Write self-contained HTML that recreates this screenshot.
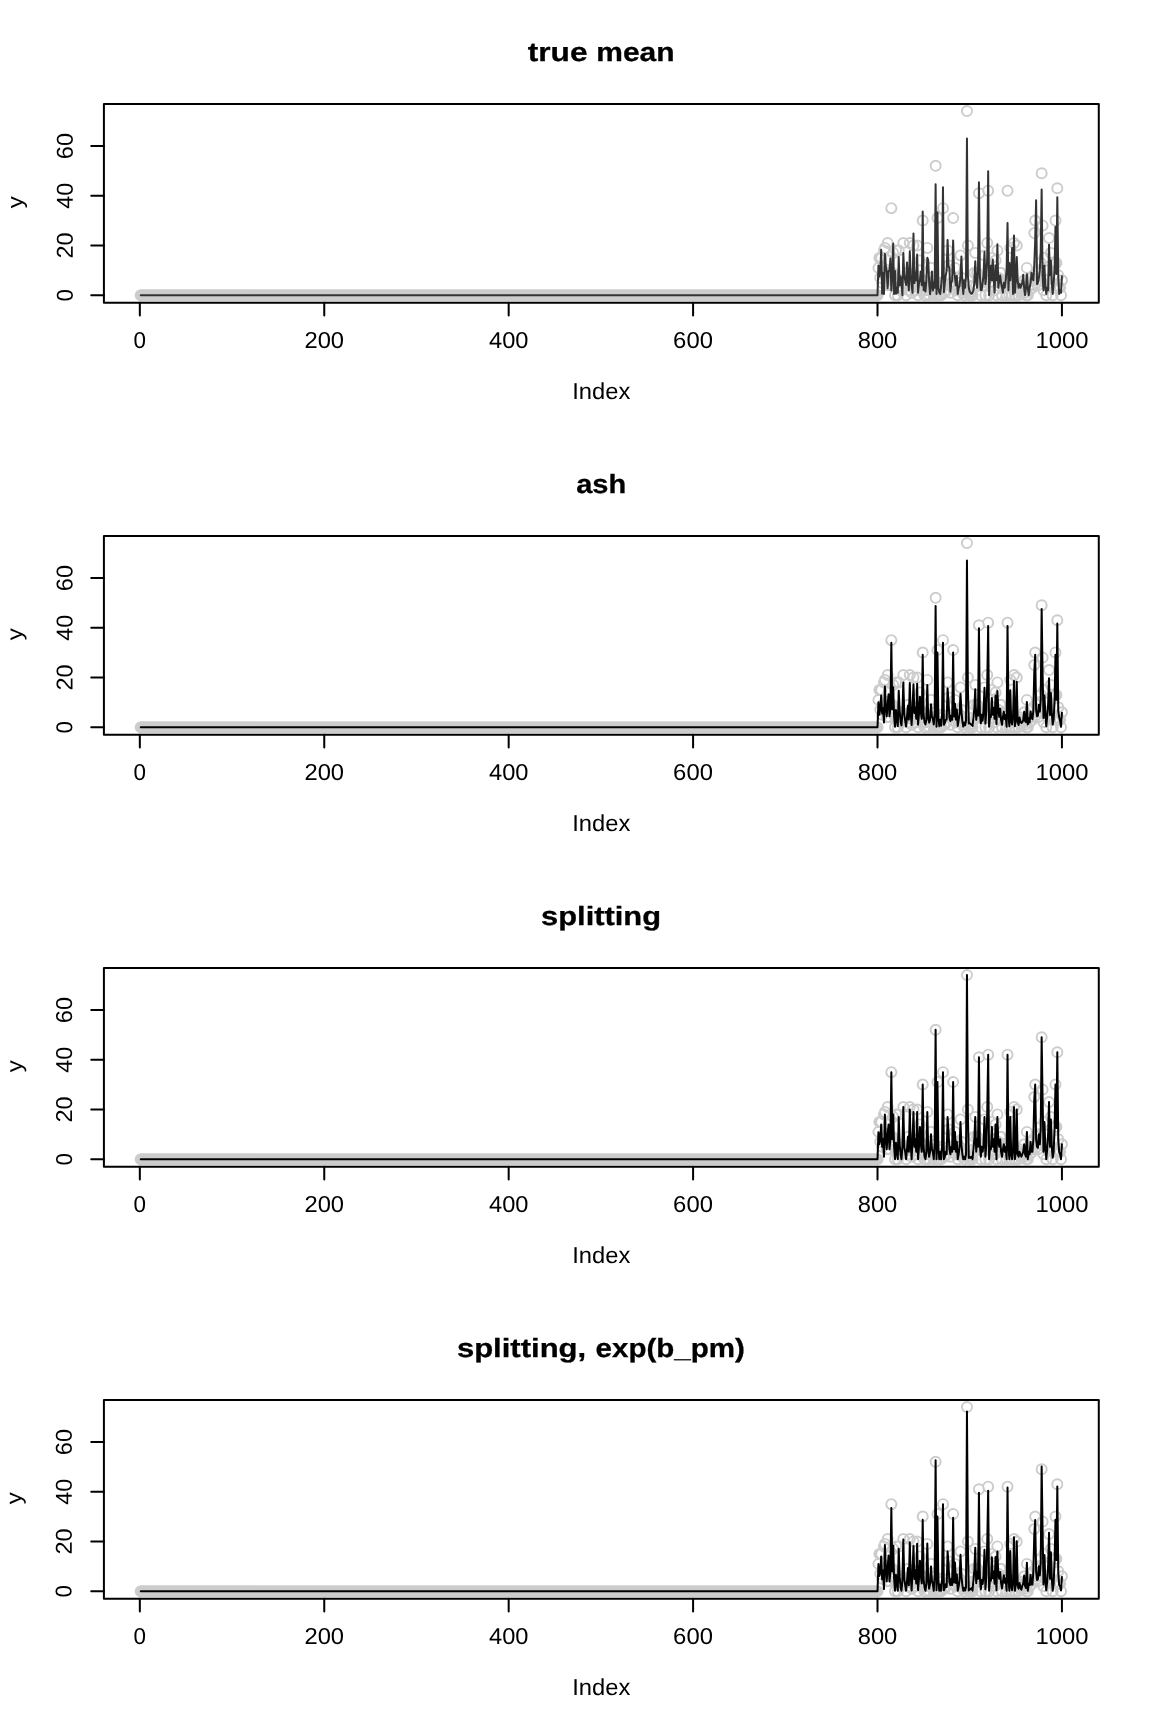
<!DOCTYPE html><html><head><meta charset="utf-8"><style>html,body{margin:0;padding:0;background:#fff;}svg{display:block;will-change:transform}text{font-family:"Liberation Sans",sans-serif;text-rendering:geometricPrecision;}</style></head><body>
<svg width="1152" height="1728" viewBox="0 0 1152 1728">
<rect width="1152" height="1728" fill="#fff"/>
<path d="M140.76 295.25H877.51" stroke="#cccccc" stroke-width="12.00" stroke-linecap="round" fill="none"/>
<path d="M873.39 267.88a5.05 5.05 0 1 0 10.10 0a5.05 5.05 0 1 0 -10.10 0M874.31 257.93a5.05 5.05 0 1 0 10.10 0a5.05 5.05 0 1 0 -10.10 0M875.23 277.83a5.05 5.05 0 1 0 10.10 0a5.05 5.05 0 1 0 -10.10 0M876.15 257.93a5.05 5.05 0 1 0 10.10 0a5.05 5.05 0 1 0 -10.10 0M877.07 282.81a5.05 5.05 0 1 0 10.10 0a5.05 5.05 0 1 0 -10.10 0M878.00 272.86a5.05 5.05 0 1 0 10.10 0a5.05 5.05 0 1 0 -10.10 0M878.92 250.46a5.05 5.05 0 1 0 10.10 0a5.05 5.05 0 1 0 -10.10 0M879.84 247.97a5.05 5.05 0 1 0 10.10 0a5.05 5.05 0 1 0 -10.10 0M880.76 272.86a5.05 5.05 0 1 0 10.10 0a5.05 5.05 0 1 0 -10.10 0M881.68 285.30a5.05 5.05 0 1 0 10.10 0a5.05 5.05 0 1 0 -10.10 0M882.61 243.00a5.05 5.05 0 1 0 10.10 0a5.05 5.05 0 1 0 -10.10 0M883.53 260.41a5.05 5.05 0 1 0 10.10 0a5.05 5.05 0 1 0 -10.10 0M884.45 285.30a5.05 5.05 0 1 0 10.10 0a5.05 5.05 0 1 0 -10.10 0M885.37 272.86a5.05 5.05 0 1 0 10.10 0a5.05 5.05 0 1 0 -10.10 0M886.29 208.16a5.05 5.05 0 1 0 10.10 0a5.05 5.05 0 1 0 -10.10 0M887.22 272.86a5.05 5.05 0 1 0 10.10 0a5.05 5.05 0 1 0 -10.10 0M888.14 252.95a5.05 5.05 0 1 0 10.10 0a5.05 5.05 0 1 0 -10.10 0M889.06 282.81a5.05 5.05 0 1 0 10.10 0a5.05 5.05 0 1 0 -10.10 0M889.98 295.25a5.05 5.05 0 1 0 10.10 0a5.05 5.05 0 1 0 -10.10 0M890.91 250.46a5.05 5.05 0 1 0 10.10 0a5.05 5.05 0 1 0 -10.10 0M891.83 287.79a5.05 5.05 0 1 0 10.10 0a5.05 5.05 0 1 0 -10.10 0M892.75 295.25a5.05 5.05 0 1 0 10.10 0a5.05 5.05 0 1 0 -10.10 0M893.67 250.46a5.05 5.05 0 1 0 10.10 0a5.05 5.05 0 1 0 -10.10 0M894.59 280.32a5.05 5.05 0 1 0 10.10 0a5.05 5.05 0 1 0 -10.10 0M895.52 290.27a5.05 5.05 0 1 0 10.10 0a5.05 5.05 0 1 0 -10.10 0M896.44 290.27a5.05 5.05 0 1 0 10.10 0a5.05 5.05 0 1 0 -10.10 0M897.36 282.81a5.05 5.05 0 1 0 10.10 0a5.05 5.05 0 1 0 -10.10 0M898.28 243.00a5.05 5.05 0 1 0 10.10 0a5.05 5.05 0 1 0 -10.10 0M899.20 282.81a5.05 5.05 0 1 0 10.10 0a5.05 5.05 0 1 0 -10.10 0M900.13 285.30a5.05 5.05 0 1 0 10.10 0a5.05 5.05 0 1 0 -10.10 0M901.05 295.25a5.05 5.05 0 1 0 10.10 0a5.05 5.05 0 1 0 -10.10 0M901.97 285.30a5.05 5.05 0 1 0 10.10 0a5.05 5.05 0 1 0 -10.10 0M902.89 272.86a5.05 5.05 0 1 0 10.10 0a5.05 5.05 0 1 0 -10.10 0M903.81 290.27a5.05 5.05 0 1 0 10.10 0a5.05 5.05 0 1 0 -10.10 0M904.74 243.00a5.05 5.05 0 1 0 10.10 0a5.05 5.05 0 1 0 -10.10 0M905.66 280.32a5.05 5.05 0 1 0 10.10 0a5.05 5.05 0 1 0 -10.10 0M906.58 292.76a5.05 5.05 0 1 0 10.10 0a5.05 5.05 0 1 0 -10.10 0M907.50 275.34a5.05 5.05 0 1 0 10.10 0a5.05 5.05 0 1 0 -10.10 0M908.43 245.48a5.05 5.05 0 1 0 10.10 0a5.05 5.05 0 1 0 -10.10 0M909.35 282.81a5.05 5.05 0 1 0 10.10 0a5.05 5.05 0 1 0 -10.10 0M910.27 275.34a5.05 5.05 0 1 0 10.10 0a5.05 5.05 0 1 0 -10.10 0M911.19 290.27a5.05 5.05 0 1 0 10.10 0a5.05 5.05 0 1 0 -10.10 0M912.11 245.48a5.05 5.05 0 1 0 10.10 0a5.05 5.05 0 1 0 -10.10 0M913.04 295.25a5.05 5.05 0 1 0 10.10 0a5.05 5.05 0 1 0 -10.10 0M913.96 282.81a5.05 5.05 0 1 0 10.10 0a5.05 5.05 0 1 0 -10.10 0M914.88 260.41a5.05 5.05 0 1 0 10.10 0a5.05 5.05 0 1 0 -10.10 0M915.80 280.32a5.05 5.05 0 1 0 10.10 0a5.05 5.05 0 1 0 -10.10 0M916.72 290.27a5.05 5.05 0 1 0 10.10 0a5.05 5.05 0 1 0 -10.10 0M917.65 220.60a5.05 5.05 0 1 0 10.10 0a5.05 5.05 0 1 0 -10.10 0M918.57 280.32a5.05 5.05 0 1 0 10.10 0a5.05 5.05 0 1 0 -10.10 0M919.49 295.25a5.05 5.05 0 1 0 10.10 0a5.05 5.05 0 1 0 -10.10 0M920.41 295.25a5.05 5.05 0 1 0 10.10 0a5.05 5.05 0 1 0 -10.10 0M921.33 290.27a5.05 5.05 0 1 0 10.10 0a5.05 5.05 0 1 0 -10.10 0M922.26 247.97a5.05 5.05 0 1 0 10.10 0a5.05 5.05 0 1 0 -10.10 0M923.18 285.30a5.05 5.05 0 1 0 10.10 0a5.05 5.05 0 1 0 -10.10 0M924.10 295.25a5.05 5.05 0 1 0 10.10 0a5.05 5.05 0 1 0 -10.10 0M925.02 290.27a5.05 5.05 0 1 0 10.10 0a5.05 5.05 0 1 0 -10.10 0M925.95 267.88a5.05 5.05 0 1 0 10.10 0a5.05 5.05 0 1 0 -10.10 0M926.87 285.30a5.05 5.05 0 1 0 10.10 0a5.05 5.05 0 1 0 -10.10 0M927.79 290.27a5.05 5.05 0 1 0 10.10 0a5.05 5.05 0 1 0 -10.10 0M928.71 295.25a5.05 5.05 0 1 0 10.10 0a5.05 5.05 0 1 0 -10.10 0M929.63 280.32a5.05 5.05 0 1 0 10.10 0a5.05 5.05 0 1 0 -10.10 0M930.56 165.86a5.05 5.05 0 1 0 10.10 0a5.05 5.05 0 1 0 -10.10 0M931.48 295.25a5.05 5.05 0 1 0 10.10 0a5.05 5.05 0 1 0 -10.10 0M932.40 218.11a5.05 5.05 0 1 0 10.10 0a5.05 5.05 0 1 0 -10.10 0M933.32 285.30a5.05 5.05 0 1 0 10.10 0a5.05 5.05 0 1 0 -10.10 0M934.24 295.25a5.05 5.05 0 1 0 10.10 0a5.05 5.05 0 1 0 -10.10 0M935.17 290.27a5.05 5.05 0 1 0 10.10 0a5.05 5.05 0 1 0 -10.10 0M936.09 295.25a5.05 5.05 0 1 0 10.10 0a5.05 5.05 0 1 0 -10.10 0M937.01 282.81a5.05 5.05 0 1 0 10.10 0a5.05 5.05 0 1 0 -10.10 0M937.93 208.16a5.05 5.05 0 1 0 10.10 0a5.05 5.05 0 1 0 -10.10 0M938.85 292.76a5.05 5.05 0 1 0 10.10 0a5.05 5.05 0 1 0 -10.10 0M939.78 292.76a5.05 5.05 0 1 0 10.10 0a5.05 5.05 0 1 0 -10.10 0M940.70 290.27a5.05 5.05 0 1 0 10.10 0a5.05 5.05 0 1 0 -10.10 0M941.62 290.27a5.05 5.05 0 1 0 10.10 0a5.05 5.05 0 1 0 -10.10 0M942.54 250.46a5.05 5.05 0 1 0 10.10 0a5.05 5.05 0 1 0 -10.10 0M943.46 265.39a5.05 5.05 0 1 0 10.10 0a5.05 5.05 0 1 0 -10.10 0M944.39 285.30a5.05 5.05 0 1 0 10.10 0a5.05 5.05 0 1 0 -10.10 0M945.31 292.76a5.05 5.05 0 1 0 10.10 0a5.05 5.05 0 1 0 -10.10 0M946.23 282.81a5.05 5.05 0 1 0 10.10 0a5.05 5.05 0 1 0 -10.10 0M947.15 285.30a5.05 5.05 0 1 0 10.10 0a5.05 5.05 0 1 0 -10.10 0M948.08 218.11a5.05 5.05 0 1 0 10.10 0a5.05 5.05 0 1 0 -10.10 0M949.00 285.30a5.05 5.05 0 1 0 10.10 0a5.05 5.05 0 1 0 -10.10 0M949.92 267.88a5.05 5.05 0 1 0 10.10 0a5.05 5.05 0 1 0 -10.10 0M950.84 290.27a5.05 5.05 0 1 0 10.10 0a5.05 5.05 0 1 0 -10.10 0M951.76 277.83a5.05 5.05 0 1 0 10.10 0a5.05 5.05 0 1 0 -10.10 0M952.69 295.25a5.05 5.05 0 1 0 10.10 0a5.05 5.05 0 1 0 -10.10 0M953.61 290.27a5.05 5.05 0 1 0 10.10 0a5.05 5.05 0 1 0 -10.10 0M954.53 282.81a5.05 5.05 0 1 0 10.10 0a5.05 5.05 0 1 0 -10.10 0M955.45 255.44a5.05 5.05 0 1 0 10.10 0a5.05 5.05 0 1 0 -10.10 0M956.37 277.83a5.05 5.05 0 1 0 10.10 0a5.05 5.05 0 1 0 -10.10 0M957.30 292.76a5.05 5.05 0 1 0 10.10 0a5.05 5.05 0 1 0 -10.10 0M958.22 290.27a5.05 5.05 0 1 0 10.10 0a5.05 5.05 0 1 0 -10.10 0M959.14 295.25a5.05 5.05 0 1 0 10.10 0a5.05 5.05 0 1 0 -10.10 0M960.06 295.25a5.05 5.05 0 1 0 10.10 0a5.05 5.05 0 1 0 -10.10 0M960.98 290.27a5.05 5.05 0 1 0 10.10 0a5.05 5.05 0 1 0 -10.10 0M961.91 111.12a5.05 5.05 0 1 0 10.10 0a5.05 5.05 0 1 0 -10.10 0M962.83 245.48a5.05 5.05 0 1 0 10.10 0a5.05 5.05 0 1 0 -10.10 0M963.75 292.76a5.05 5.05 0 1 0 10.10 0a5.05 5.05 0 1 0 -10.10 0M964.67 295.25a5.05 5.05 0 1 0 10.10 0a5.05 5.05 0 1 0 -10.10 0M965.60 292.76a5.05 5.05 0 1 0 10.10 0a5.05 5.05 0 1 0 -10.10 0M966.52 292.76a5.05 5.05 0 1 0 10.10 0a5.05 5.05 0 1 0 -10.10 0M967.44 295.25a5.05 5.05 0 1 0 10.10 0a5.05 5.05 0 1 0 -10.10 0M968.36 285.30a5.05 5.05 0 1 0 10.10 0a5.05 5.05 0 1 0 -10.10 0M969.28 272.86a5.05 5.05 0 1 0 10.10 0a5.05 5.05 0 1 0 -10.10 0M970.21 252.95a5.05 5.05 0 1 0 10.10 0a5.05 5.05 0 1 0 -10.10 0M971.13 285.30a5.05 5.05 0 1 0 10.10 0a5.05 5.05 0 1 0 -10.10 0M972.05 272.86a5.05 5.05 0 1 0 10.10 0a5.05 5.05 0 1 0 -10.10 0M972.97 280.32a5.05 5.05 0 1 0 10.10 0a5.05 5.05 0 1 0 -10.10 0M973.89 193.23a5.05 5.05 0 1 0 10.10 0a5.05 5.05 0 1 0 -10.10 0M974.82 280.32a5.05 5.05 0 1 0 10.10 0a5.05 5.05 0 1 0 -10.10 0M975.74 295.25a5.05 5.05 0 1 0 10.10 0a5.05 5.05 0 1 0 -10.10 0M976.66 282.81a5.05 5.05 0 1 0 10.10 0a5.05 5.05 0 1 0 -10.10 0M977.58 285.30a5.05 5.05 0 1 0 10.10 0a5.05 5.05 0 1 0 -10.10 0M978.50 280.32a5.05 5.05 0 1 0 10.10 0a5.05 5.05 0 1 0 -10.10 0M979.43 255.44a5.05 5.05 0 1 0 10.10 0a5.05 5.05 0 1 0 -10.10 0M980.35 295.25a5.05 5.05 0 1 0 10.10 0a5.05 5.05 0 1 0 -10.10 0M981.27 280.32a5.05 5.05 0 1 0 10.10 0a5.05 5.05 0 1 0 -10.10 0M982.19 243.00a5.05 5.05 0 1 0 10.10 0a5.05 5.05 0 1 0 -10.10 0M983.12 190.74a5.05 5.05 0 1 0 10.10 0a5.05 5.05 0 1 0 -10.10 0M984.04 295.25a5.05 5.05 0 1 0 10.10 0a5.05 5.05 0 1 0 -10.10 0M984.96 282.81a5.05 5.05 0 1 0 10.10 0a5.05 5.05 0 1 0 -10.10 0M985.88 285.30a5.05 5.05 0 1 0 10.10 0a5.05 5.05 0 1 0 -10.10 0M986.80 257.93a5.05 5.05 0 1 0 10.10 0a5.05 5.05 0 1 0 -10.10 0M987.73 282.81a5.05 5.05 0 1 0 10.10 0a5.05 5.05 0 1 0 -10.10 0M988.65 275.34a5.05 5.05 0 1 0 10.10 0a5.05 5.05 0 1 0 -10.10 0M989.57 290.27a5.05 5.05 0 1 0 10.10 0a5.05 5.05 0 1 0 -10.10 0M990.49 260.41a5.05 5.05 0 1 0 10.10 0a5.05 5.05 0 1 0 -10.10 0M991.41 295.25a5.05 5.05 0 1 0 10.10 0a5.05 5.05 0 1 0 -10.10 0M992.34 250.46a5.05 5.05 0 1 0 10.10 0a5.05 5.05 0 1 0 -10.10 0M993.26 277.83a5.05 5.05 0 1 0 10.10 0a5.05 5.05 0 1 0 -10.10 0M994.18 282.81a5.05 5.05 0 1 0 10.10 0a5.05 5.05 0 1 0 -10.10 0M995.10 272.86a5.05 5.05 0 1 0 10.10 0a5.05 5.05 0 1 0 -10.10 0M996.02 272.86a5.05 5.05 0 1 0 10.10 0a5.05 5.05 0 1 0 -10.10 0M996.95 295.25a5.05 5.05 0 1 0 10.10 0a5.05 5.05 0 1 0 -10.10 0M997.87 282.81a5.05 5.05 0 1 0 10.10 0a5.05 5.05 0 1 0 -10.10 0M998.79 280.32a5.05 5.05 0 1 0 10.10 0a5.05 5.05 0 1 0 -10.10 0M999.71 287.79a5.05 5.05 0 1 0 10.10 0a5.05 5.05 0 1 0 -10.10 0M1000.63 280.32a5.05 5.05 0 1 0 10.10 0a5.05 5.05 0 1 0 -10.10 0M1001.56 295.25a5.05 5.05 0 1 0 10.10 0a5.05 5.05 0 1 0 -10.10 0M1002.48 190.74a5.05 5.05 0 1 0 10.10 0a5.05 5.05 0 1 0 -10.10 0M1003.40 282.81a5.05 5.05 0 1 0 10.10 0a5.05 5.05 0 1 0 -10.10 0M1004.32 295.25a5.05 5.05 0 1 0 10.10 0a5.05 5.05 0 1 0 -10.10 0M1005.25 247.97a5.05 5.05 0 1 0 10.10 0a5.05 5.05 0 1 0 -10.10 0M1006.17 287.79a5.05 5.05 0 1 0 10.10 0a5.05 5.05 0 1 0 -10.10 0M1007.09 295.25a5.05 5.05 0 1 0 10.10 0a5.05 5.05 0 1 0 -10.10 0M1008.01 285.30a5.05 5.05 0 1 0 10.10 0a5.05 5.05 0 1 0 -10.10 0M1008.93 243.00a5.05 5.05 0 1 0 10.10 0a5.05 5.05 0 1 0 -10.10 0M1009.86 295.25a5.05 5.05 0 1 0 10.10 0a5.05 5.05 0 1 0 -10.10 0M1010.78 285.30a5.05 5.05 0 1 0 10.10 0a5.05 5.05 0 1 0 -10.10 0M1011.70 245.48a5.05 5.05 0 1 0 10.10 0a5.05 5.05 0 1 0 -10.10 0M1012.62 287.79a5.05 5.05 0 1 0 10.10 0a5.05 5.05 0 1 0 -10.10 0M1013.54 295.25a5.05 5.05 0 1 0 10.10 0a5.05 5.05 0 1 0 -10.10 0M1014.47 285.30a5.05 5.05 0 1 0 10.10 0a5.05 5.05 0 1 0 -10.10 0M1015.39 290.27a5.05 5.05 0 1 0 10.10 0a5.05 5.05 0 1 0 -10.10 0M1016.31 292.76a5.05 5.05 0 1 0 10.10 0a5.05 5.05 0 1 0 -10.10 0M1017.23 290.27a5.05 5.05 0 1 0 10.10 0a5.05 5.05 0 1 0 -10.10 0M1018.15 287.79a5.05 5.05 0 1 0 10.10 0a5.05 5.05 0 1 0 -10.10 0M1019.08 280.32a5.05 5.05 0 1 0 10.10 0a5.05 5.05 0 1 0 -10.10 0M1020.00 292.76a5.05 5.05 0 1 0 10.10 0a5.05 5.05 0 1 0 -10.10 0M1020.92 295.25a5.05 5.05 0 1 0 10.10 0a5.05 5.05 0 1 0 -10.10 0M1021.84 267.88a5.05 5.05 0 1 0 10.10 0a5.05 5.05 0 1 0 -10.10 0M1022.77 295.25a5.05 5.05 0 1 0 10.10 0a5.05 5.05 0 1 0 -10.10 0M1023.69 285.30a5.05 5.05 0 1 0 10.10 0a5.05 5.05 0 1 0 -10.10 0M1024.61 290.27a5.05 5.05 0 1 0 10.10 0a5.05 5.05 0 1 0 -10.10 0M1025.53 277.83a5.05 5.05 0 1 0 10.10 0a5.05 5.05 0 1 0 -10.10 0M1026.45 285.30a5.05 5.05 0 1 0 10.10 0a5.05 5.05 0 1 0 -10.10 0M1027.38 287.79a5.05 5.05 0 1 0 10.10 0a5.05 5.05 0 1 0 -10.10 0M1028.30 275.34a5.05 5.05 0 1 0 10.10 0a5.05 5.05 0 1 0 -10.10 0M1029.22 233.04a5.05 5.05 0 1 0 10.10 0a5.05 5.05 0 1 0 -10.10 0M1030.14 220.60a5.05 5.05 0 1 0 10.10 0a5.05 5.05 0 1 0 -10.10 0M1031.06 272.86a5.05 5.05 0 1 0 10.10 0a5.05 5.05 0 1 0 -10.10 0M1031.99 280.32a5.05 5.05 0 1 0 10.10 0a5.05 5.05 0 1 0 -10.10 0M1032.91 285.30a5.05 5.05 0 1 0 10.10 0a5.05 5.05 0 1 0 -10.10 0M1033.83 270.37a5.05 5.05 0 1 0 10.10 0a5.05 5.05 0 1 0 -10.10 0M1034.75 280.32a5.05 5.05 0 1 0 10.10 0a5.05 5.05 0 1 0 -10.10 0M1035.67 262.90a5.05 5.05 0 1 0 10.10 0a5.05 5.05 0 1 0 -10.10 0M1036.60 173.32a5.05 5.05 0 1 0 10.10 0a5.05 5.05 0 1 0 -10.10 0M1037.52 225.58a5.05 5.05 0 1 0 10.10 0a5.05 5.05 0 1 0 -10.10 0M1038.44 290.27a5.05 5.05 0 1 0 10.10 0a5.05 5.05 0 1 0 -10.10 0M1039.36 257.93a5.05 5.05 0 1 0 10.10 0a5.05 5.05 0 1 0 -10.10 0M1040.29 280.32a5.05 5.05 0 1 0 10.10 0a5.05 5.05 0 1 0 -10.10 0M1041.21 295.25a5.05 5.05 0 1 0 10.10 0a5.05 5.05 0 1 0 -10.10 0M1042.13 285.30a5.05 5.05 0 1 0 10.10 0a5.05 5.05 0 1 0 -10.10 0M1043.05 270.37a5.05 5.05 0 1 0 10.10 0a5.05 5.05 0 1 0 -10.10 0M1043.97 238.02a5.05 5.05 0 1 0 10.10 0a5.05 5.05 0 1 0 -10.10 0M1044.90 282.81a5.05 5.05 0 1 0 10.10 0a5.05 5.05 0 1 0 -10.10 0M1045.82 252.95a5.05 5.05 0 1 0 10.10 0a5.05 5.05 0 1 0 -10.10 0M1046.74 282.81a5.05 5.05 0 1 0 10.10 0a5.05 5.05 0 1 0 -10.10 0M1047.66 295.25a5.05 5.05 0 1 0 10.10 0a5.05 5.05 0 1 0 -10.10 0M1048.58 287.79a5.05 5.05 0 1 0 10.10 0a5.05 5.05 0 1 0 -10.10 0M1049.51 262.90a5.05 5.05 0 1 0 10.10 0a5.05 5.05 0 1 0 -10.10 0M1050.43 220.60a5.05 5.05 0 1 0 10.10 0a5.05 5.05 0 1 0 -10.10 0M1051.35 262.90a5.05 5.05 0 1 0 10.10 0a5.05 5.05 0 1 0 -10.10 0M1052.27 188.25a5.05 5.05 0 1 0 10.10 0a5.05 5.05 0 1 0 -10.10 0M1053.19 275.34a5.05 5.05 0 1 0 10.10 0a5.05 5.05 0 1 0 -10.10 0M1054.12 287.79a5.05 5.05 0 1 0 10.10 0a5.05 5.05 0 1 0 -10.10 0M1055.04 287.79a5.05 5.05 0 1 0 10.10 0a5.05 5.05 0 1 0 -10.10 0M1055.96 295.25a5.05 5.05 0 1 0 10.10 0a5.05 5.05 0 1 0 -10.10 0M1056.88 280.32a5.05 5.05 0 1 0 10.10 0a5.05 5.05 0 1 0 -10.10 0" fill="none" stroke="#cccccc" stroke-width="1.9"/>
<path d="M140.76 295.25L877.51 295.25L878.44 265.39L879.36 276.59L880.28 270.37L881.20 249.71L882.12 293.76L883.05 272.86L883.97 294.01L884.89 253.94L885.81 265.39L886.73 272.36L887.66 288.28L888.58 271.11L889.50 270.37L890.42 258.42L891.34 290.52L892.27 275.34L893.19 243.49L894.11 294.01L895.03 271.11L895.96 293.76L896.88 287.79L897.80 292.76L898.72 256.93L899.64 285.30L900.57 276.59L901.49 282.81L902.41 295.25L903.33 252.95L904.25 275.34L905.18 280.32L906.10 285.05L907.02 262.40L907.94 280.32L908.86 290.27L909.79 251.21L910.71 275.34L911.63 285.30L912.55 292.76L913.48 233.54L914.40 283.06L915.32 272.86L916.24 280.32L917.16 254.44L918.09 292.76L919.01 282.81L919.93 280.32L920.85 271.61L921.77 285.30L922.70 211.39L923.62 290.27L924.54 282.81L925.46 291.52L926.38 280.32L927.31 257.68L928.23 260.41L929.15 282.81L930.07 294.25L931.00 285.30L931.92 271.61L932.84 290.52L933.76 282.81L934.68 287.79L935.61 184.27L936.53 294.01L937.45 212.14L938.37 287.79L939.29 292.76L940.22 294.01L941.14 285.30L942.06 275.34L942.98 187.26L943.90 292.26L944.83 282.81L945.75 275.34L946.67 270.37L947.59 240.01L948.51 265.39L949.44 268.87L950.36 291.77L951.28 282.81L952.20 280.32L953.13 240.51L954.05 270.37L954.97 277.83L955.89 285.30L956.81 275.84L957.74 294.01L958.66 287.79L959.58 285.79L960.50 275.34L961.42 256.43L962.35 282.81L963.27 294.01L964.19 280.32L965.11 287.79L966.03 275.34L966.96 138.49L967.88 275.34L968.80 287.79L969.72 291.77L970.65 292.76L971.57 294.01L972.49 292.76L973.41 290.27L974.33 282.81L975.26 261.16L976.18 280.32L977.10 287.79L978.02 270.37L978.94 182.28L979.87 275.34L980.79 290.27L981.71 289.78L982.63 282.81L983.55 275.34L984.48 251.70L985.40 284.05L986.32 275.34L987.24 257.93L988.17 171.33L989.09 295.25L990.01 275.34L990.93 265.39L991.85 280.32L992.78 259.42L993.70 280.32L994.62 292.76L995.54 265.39L996.46 280.32L997.39 244.24L998.31 287.79L999.23 280.32L1000.15 275.34L1001.07 282.81L1002.00 287.79L1002.92 292.76L1003.84 282.81L1004.76 287.79L1005.68 280.32L1006.61 270.37L1007.53 223.09L1008.45 290.27L1009.37 262.90L1010.30 280.32L1011.22 270.37L1012.14 247.97L1013.06 294.01L1013.98 235.53L1014.91 292.76L1015.83 280.32L1016.75 256.93L1017.67 280.32L1018.59 287.79L1019.52 284.05L1020.44 287.79L1021.36 285.30L1022.28 282.81L1023.20 274.85L1024.13 287.79L1025.05 295.00L1025.97 287.79L1026.89 274.35L1027.82 287.79L1028.74 295.25L1029.66 287.79L1030.58 282.81L1031.50 272.86L1032.43 277.83L1033.35 280.32L1034.27 265.39L1035.19 240.51L1036.11 200.20L1037.04 284.05L1037.96 282.81L1038.88 277.83L1039.80 270.37L1040.72 250.46L1041.65 189.50L1042.57 275.34L1043.49 290.27L1044.41 265.39L1045.34 285.30L1046.26 294.01L1047.18 287.79L1048.10 290.27L1049.02 244.74L1049.95 275.34L1050.87 260.41L1051.79 282.81L1052.71 294.01L1053.63 282.81L1054.56 270.37L1055.48 226.82L1056.40 274.10L1057.32 197.21L1058.24 275.34L1059.17 294.01L1060.09 290.27L1061.01 292.76L1061.93 276.34" fill="none" stroke="#333333" stroke-width="2" stroke-linejoin="round" stroke-linecap="round"/>
<rect x="103.91" y="103.91" width="994.87" height="198.84" fill="none" stroke="#000" stroke-width="2" stroke-linejoin="round"/>
<path d="M139.83 302.75V315.42M324.25 302.75V315.42M508.67 302.75V315.42M693.09 302.75V315.42M877.51 302.75V315.42M1061.93 302.75V315.42M103.91 295.25H91.24M103.91 245.48H91.24M103.91 195.72H91.24M103.91 145.95H91.24" stroke="#000" stroke-width="2" stroke-linecap="round" fill="none"/>
<text x="133.61" y="347.75" font-size="23.00" textLength="12.48" lengthAdjust="spacingAndGlyphs">0</text>
<text x="304.44" y="347.75" font-size="23.00" textLength="39.63" lengthAdjust="spacingAndGlyphs">200</text>
<text x="489.00" y="347.75" font-size="23.00" textLength="39.48" lengthAdjust="spacingAndGlyphs">400</text>
<text x="673.14" y="347.75" font-size="23.00" textLength="39.77" lengthAdjust="spacingAndGlyphs">600</text>
<text x="857.70" y="347.75" font-size="23.00" textLength="39.63" lengthAdjust="spacingAndGlyphs">800</text>
<text x="1035.57" y="347.75" font-size="23.00" textLength="52.93" lengthAdjust="spacingAndGlyphs">1000</text>
<text transform="translate(73.00 0) rotate(-89.95)" x="-301.48" y="0" font-size="23.00" textLength="12.49" lengthAdjust="spacingAndGlyphs">0</text>
<text transform="translate(73.00 0) rotate(-89.95)" x="-258.58" y="0" font-size="23.00" textLength="26.14" lengthAdjust="spacingAndGlyphs">20</text>
<text transform="translate(73.00 0) rotate(-89.95)" x="-208.67" y="0" font-size="23.00" textLength="26.00" lengthAdjust="spacingAndGlyphs">40</text>
<text transform="translate(73.00 0) rotate(-89.95)" x="-159.17" y="0" font-size="23.00" textLength="26.27" lengthAdjust="spacingAndGlyphs">60</text>
<text x="572.18" y="398.80" font-size="23.00" textLength="58.12" lengthAdjust="spacingAndGlyphs">Index</text>
<text transform="translate(22.60 0) rotate(-89.95)" x="-208.39" y="0" font-size="21.70" textLength="11.95" lengthAdjust="spacingAndGlyphs">y</text>
<text x="527.78" y="60.80" font-size="26.30" font-weight="bold" stroke="#000" stroke-width="0.3" textLength="59.80" lengthAdjust="spacingAndGlyphs">true</text>
<text x="596.29" y="60.80" font-size="26.30" font-weight="bold" stroke="#000" stroke-width="0.3" textLength="78.33" lengthAdjust="spacingAndGlyphs">mean</text>
<path d="M140.76 727.25H877.51" stroke="#cccccc" stroke-width="12.00" stroke-linecap="round" fill="none"/>
<path d="M873.39 699.88a5.05 5.05 0 1 0 10.10 0a5.05 5.05 0 1 0 -10.10 0M874.31 689.93a5.05 5.05 0 1 0 10.10 0a5.05 5.05 0 1 0 -10.10 0M875.23 709.83a5.05 5.05 0 1 0 10.10 0a5.05 5.05 0 1 0 -10.10 0M876.15 689.93a5.05 5.05 0 1 0 10.10 0a5.05 5.05 0 1 0 -10.10 0M877.07 714.81a5.05 5.05 0 1 0 10.10 0a5.05 5.05 0 1 0 -10.10 0M878.00 704.86a5.05 5.05 0 1 0 10.10 0a5.05 5.05 0 1 0 -10.10 0M878.92 682.46a5.05 5.05 0 1 0 10.10 0a5.05 5.05 0 1 0 -10.10 0M879.84 679.97a5.05 5.05 0 1 0 10.10 0a5.05 5.05 0 1 0 -10.10 0M880.76 704.86a5.05 5.05 0 1 0 10.10 0a5.05 5.05 0 1 0 -10.10 0M881.68 717.30a5.05 5.05 0 1 0 10.10 0a5.05 5.05 0 1 0 -10.10 0M882.61 675.00a5.05 5.05 0 1 0 10.10 0a5.05 5.05 0 1 0 -10.10 0M883.53 692.41a5.05 5.05 0 1 0 10.10 0a5.05 5.05 0 1 0 -10.10 0M884.45 717.30a5.05 5.05 0 1 0 10.10 0a5.05 5.05 0 1 0 -10.10 0M885.37 704.86a5.05 5.05 0 1 0 10.10 0a5.05 5.05 0 1 0 -10.10 0M886.29 640.16a5.05 5.05 0 1 0 10.10 0a5.05 5.05 0 1 0 -10.10 0M887.22 704.86a5.05 5.05 0 1 0 10.10 0a5.05 5.05 0 1 0 -10.10 0M888.14 684.95a5.05 5.05 0 1 0 10.10 0a5.05 5.05 0 1 0 -10.10 0M889.06 714.81a5.05 5.05 0 1 0 10.10 0a5.05 5.05 0 1 0 -10.10 0M889.98 727.25a5.05 5.05 0 1 0 10.10 0a5.05 5.05 0 1 0 -10.10 0M890.91 682.46a5.05 5.05 0 1 0 10.10 0a5.05 5.05 0 1 0 -10.10 0M891.83 719.79a5.05 5.05 0 1 0 10.10 0a5.05 5.05 0 1 0 -10.10 0M892.75 727.25a5.05 5.05 0 1 0 10.10 0a5.05 5.05 0 1 0 -10.10 0M893.67 682.46a5.05 5.05 0 1 0 10.10 0a5.05 5.05 0 1 0 -10.10 0M894.59 712.32a5.05 5.05 0 1 0 10.10 0a5.05 5.05 0 1 0 -10.10 0M895.52 722.27a5.05 5.05 0 1 0 10.10 0a5.05 5.05 0 1 0 -10.10 0M896.44 722.27a5.05 5.05 0 1 0 10.10 0a5.05 5.05 0 1 0 -10.10 0M897.36 714.81a5.05 5.05 0 1 0 10.10 0a5.05 5.05 0 1 0 -10.10 0M898.28 675.00a5.05 5.05 0 1 0 10.10 0a5.05 5.05 0 1 0 -10.10 0M899.20 714.81a5.05 5.05 0 1 0 10.10 0a5.05 5.05 0 1 0 -10.10 0M900.13 717.30a5.05 5.05 0 1 0 10.10 0a5.05 5.05 0 1 0 -10.10 0M901.05 727.25a5.05 5.05 0 1 0 10.10 0a5.05 5.05 0 1 0 -10.10 0M901.97 717.30a5.05 5.05 0 1 0 10.10 0a5.05 5.05 0 1 0 -10.10 0M902.89 704.86a5.05 5.05 0 1 0 10.10 0a5.05 5.05 0 1 0 -10.10 0M903.81 722.27a5.05 5.05 0 1 0 10.10 0a5.05 5.05 0 1 0 -10.10 0M904.74 675.00a5.05 5.05 0 1 0 10.10 0a5.05 5.05 0 1 0 -10.10 0M905.66 712.32a5.05 5.05 0 1 0 10.10 0a5.05 5.05 0 1 0 -10.10 0M906.58 724.76a5.05 5.05 0 1 0 10.10 0a5.05 5.05 0 1 0 -10.10 0M907.50 707.34a5.05 5.05 0 1 0 10.10 0a5.05 5.05 0 1 0 -10.10 0M908.43 677.48a5.05 5.05 0 1 0 10.10 0a5.05 5.05 0 1 0 -10.10 0M909.35 714.81a5.05 5.05 0 1 0 10.10 0a5.05 5.05 0 1 0 -10.10 0M910.27 707.34a5.05 5.05 0 1 0 10.10 0a5.05 5.05 0 1 0 -10.10 0M911.19 722.27a5.05 5.05 0 1 0 10.10 0a5.05 5.05 0 1 0 -10.10 0M912.11 677.48a5.05 5.05 0 1 0 10.10 0a5.05 5.05 0 1 0 -10.10 0M913.04 727.25a5.05 5.05 0 1 0 10.10 0a5.05 5.05 0 1 0 -10.10 0M913.96 714.81a5.05 5.05 0 1 0 10.10 0a5.05 5.05 0 1 0 -10.10 0M914.88 692.41a5.05 5.05 0 1 0 10.10 0a5.05 5.05 0 1 0 -10.10 0M915.80 712.32a5.05 5.05 0 1 0 10.10 0a5.05 5.05 0 1 0 -10.10 0M916.72 722.27a5.05 5.05 0 1 0 10.10 0a5.05 5.05 0 1 0 -10.10 0M917.65 652.60a5.05 5.05 0 1 0 10.10 0a5.05 5.05 0 1 0 -10.10 0M918.57 712.32a5.05 5.05 0 1 0 10.10 0a5.05 5.05 0 1 0 -10.10 0M919.49 727.25a5.05 5.05 0 1 0 10.10 0a5.05 5.05 0 1 0 -10.10 0M920.41 727.25a5.05 5.05 0 1 0 10.10 0a5.05 5.05 0 1 0 -10.10 0M921.33 722.27a5.05 5.05 0 1 0 10.10 0a5.05 5.05 0 1 0 -10.10 0M922.26 679.97a5.05 5.05 0 1 0 10.10 0a5.05 5.05 0 1 0 -10.10 0M923.18 717.30a5.05 5.05 0 1 0 10.10 0a5.05 5.05 0 1 0 -10.10 0M924.10 727.25a5.05 5.05 0 1 0 10.10 0a5.05 5.05 0 1 0 -10.10 0M925.02 722.27a5.05 5.05 0 1 0 10.10 0a5.05 5.05 0 1 0 -10.10 0M925.95 699.88a5.05 5.05 0 1 0 10.10 0a5.05 5.05 0 1 0 -10.10 0M926.87 717.30a5.05 5.05 0 1 0 10.10 0a5.05 5.05 0 1 0 -10.10 0M927.79 722.27a5.05 5.05 0 1 0 10.10 0a5.05 5.05 0 1 0 -10.10 0M928.71 727.25a5.05 5.05 0 1 0 10.10 0a5.05 5.05 0 1 0 -10.10 0M929.63 712.32a5.05 5.05 0 1 0 10.10 0a5.05 5.05 0 1 0 -10.10 0M930.56 597.86a5.05 5.05 0 1 0 10.10 0a5.05 5.05 0 1 0 -10.10 0M931.48 727.25a5.05 5.05 0 1 0 10.10 0a5.05 5.05 0 1 0 -10.10 0M932.40 650.11a5.05 5.05 0 1 0 10.10 0a5.05 5.05 0 1 0 -10.10 0M933.32 717.30a5.05 5.05 0 1 0 10.10 0a5.05 5.05 0 1 0 -10.10 0M934.24 727.25a5.05 5.05 0 1 0 10.10 0a5.05 5.05 0 1 0 -10.10 0M935.17 722.27a5.05 5.05 0 1 0 10.10 0a5.05 5.05 0 1 0 -10.10 0M936.09 727.25a5.05 5.05 0 1 0 10.10 0a5.05 5.05 0 1 0 -10.10 0M937.01 714.81a5.05 5.05 0 1 0 10.10 0a5.05 5.05 0 1 0 -10.10 0M937.93 640.16a5.05 5.05 0 1 0 10.10 0a5.05 5.05 0 1 0 -10.10 0M938.85 724.76a5.05 5.05 0 1 0 10.10 0a5.05 5.05 0 1 0 -10.10 0M939.78 724.76a5.05 5.05 0 1 0 10.10 0a5.05 5.05 0 1 0 -10.10 0M940.70 722.27a5.05 5.05 0 1 0 10.10 0a5.05 5.05 0 1 0 -10.10 0M941.62 722.27a5.05 5.05 0 1 0 10.10 0a5.05 5.05 0 1 0 -10.10 0M942.54 682.46a5.05 5.05 0 1 0 10.10 0a5.05 5.05 0 1 0 -10.10 0M943.46 697.39a5.05 5.05 0 1 0 10.10 0a5.05 5.05 0 1 0 -10.10 0M944.39 717.30a5.05 5.05 0 1 0 10.10 0a5.05 5.05 0 1 0 -10.10 0M945.31 724.76a5.05 5.05 0 1 0 10.10 0a5.05 5.05 0 1 0 -10.10 0M946.23 714.81a5.05 5.05 0 1 0 10.10 0a5.05 5.05 0 1 0 -10.10 0M947.15 717.30a5.05 5.05 0 1 0 10.10 0a5.05 5.05 0 1 0 -10.10 0M948.08 650.11a5.05 5.05 0 1 0 10.10 0a5.05 5.05 0 1 0 -10.10 0M949.00 717.30a5.05 5.05 0 1 0 10.10 0a5.05 5.05 0 1 0 -10.10 0M949.92 699.88a5.05 5.05 0 1 0 10.10 0a5.05 5.05 0 1 0 -10.10 0M950.84 722.27a5.05 5.05 0 1 0 10.10 0a5.05 5.05 0 1 0 -10.10 0M951.76 709.83a5.05 5.05 0 1 0 10.10 0a5.05 5.05 0 1 0 -10.10 0M952.69 727.25a5.05 5.05 0 1 0 10.10 0a5.05 5.05 0 1 0 -10.10 0M953.61 722.27a5.05 5.05 0 1 0 10.10 0a5.05 5.05 0 1 0 -10.10 0M954.53 714.81a5.05 5.05 0 1 0 10.10 0a5.05 5.05 0 1 0 -10.10 0M955.45 687.44a5.05 5.05 0 1 0 10.10 0a5.05 5.05 0 1 0 -10.10 0M956.37 709.83a5.05 5.05 0 1 0 10.10 0a5.05 5.05 0 1 0 -10.10 0M957.30 724.76a5.05 5.05 0 1 0 10.10 0a5.05 5.05 0 1 0 -10.10 0M958.22 722.27a5.05 5.05 0 1 0 10.10 0a5.05 5.05 0 1 0 -10.10 0M959.14 727.25a5.05 5.05 0 1 0 10.10 0a5.05 5.05 0 1 0 -10.10 0M960.06 727.25a5.05 5.05 0 1 0 10.10 0a5.05 5.05 0 1 0 -10.10 0M960.98 722.27a5.05 5.05 0 1 0 10.10 0a5.05 5.05 0 1 0 -10.10 0M961.91 543.12a5.05 5.05 0 1 0 10.10 0a5.05 5.05 0 1 0 -10.10 0M962.83 677.48a5.05 5.05 0 1 0 10.10 0a5.05 5.05 0 1 0 -10.10 0M963.75 724.76a5.05 5.05 0 1 0 10.10 0a5.05 5.05 0 1 0 -10.10 0M964.67 727.25a5.05 5.05 0 1 0 10.10 0a5.05 5.05 0 1 0 -10.10 0M965.60 724.76a5.05 5.05 0 1 0 10.10 0a5.05 5.05 0 1 0 -10.10 0M966.52 724.76a5.05 5.05 0 1 0 10.10 0a5.05 5.05 0 1 0 -10.10 0M967.44 727.25a5.05 5.05 0 1 0 10.10 0a5.05 5.05 0 1 0 -10.10 0M968.36 717.30a5.05 5.05 0 1 0 10.10 0a5.05 5.05 0 1 0 -10.10 0M969.28 704.86a5.05 5.05 0 1 0 10.10 0a5.05 5.05 0 1 0 -10.10 0M970.21 684.95a5.05 5.05 0 1 0 10.10 0a5.05 5.05 0 1 0 -10.10 0M971.13 717.30a5.05 5.05 0 1 0 10.10 0a5.05 5.05 0 1 0 -10.10 0M972.05 704.86a5.05 5.05 0 1 0 10.10 0a5.05 5.05 0 1 0 -10.10 0M972.97 712.32a5.05 5.05 0 1 0 10.10 0a5.05 5.05 0 1 0 -10.10 0M973.89 625.23a5.05 5.05 0 1 0 10.10 0a5.05 5.05 0 1 0 -10.10 0M974.82 712.32a5.05 5.05 0 1 0 10.10 0a5.05 5.05 0 1 0 -10.10 0M975.74 727.25a5.05 5.05 0 1 0 10.10 0a5.05 5.05 0 1 0 -10.10 0M976.66 714.81a5.05 5.05 0 1 0 10.10 0a5.05 5.05 0 1 0 -10.10 0M977.58 717.30a5.05 5.05 0 1 0 10.10 0a5.05 5.05 0 1 0 -10.10 0M978.50 712.32a5.05 5.05 0 1 0 10.10 0a5.05 5.05 0 1 0 -10.10 0M979.43 687.44a5.05 5.05 0 1 0 10.10 0a5.05 5.05 0 1 0 -10.10 0M980.35 727.25a5.05 5.05 0 1 0 10.10 0a5.05 5.05 0 1 0 -10.10 0M981.27 712.32a5.05 5.05 0 1 0 10.10 0a5.05 5.05 0 1 0 -10.10 0M982.19 675.00a5.05 5.05 0 1 0 10.10 0a5.05 5.05 0 1 0 -10.10 0M983.12 622.74a5.05 5.05 0 1 0 10.10 0a5.05 5.05 0 1 0 -10.10 0M984.04 727.25a5.05 5.05 0 1 0 10.10 0a5.05 5.05 0 1 0 -10.10 0M984.96 714.81a5.05 5.05 0 1 0 10.10 0a5.05 5.05 0 1 0 -10.10 0M985.88 717.30a5.05 5.05 0 1 0 10.10 0a5.05 5.05 0 1 0 -10.10 0M986.80 689.93a5.05 5.05 0 1 0 10.10 0a5.05 5.05 0 1 0 -10.10 0M987.73 714.81a5.05 5.05 0 1 0 10.10 0a5.05 5.05 0 1 0 -10.10 0M988.65 707.34a5.05 5.05 0 1 0 10.10 0a5.05 5.05 0 1 0 -10.10 0M989.57 722.27a5.05 5.05 0 1 0 10.10 0a5.05 5.05 0 1 0 -10.10 0M990.49 692.41a5.05 5.05 0 1 0 10.10 0a5.05 5.05 0 1 0 -10.10 0M991.41 727.25a5.05 5.05 0 1 0 10.10 0a5.05 5.05 0 1 0 -10.10 0M992.34 682.46a5.05 5.05 0 1 0 10.10 0a5.05 5.05 0 1 0 -10.10 0M993.26 709.83a5.05 5.05 0 1 0 10.10 0a5.05 5.05 0 1 0 -10.10 0M994.18 714.81a5.05 5.05 0 1 0 10.10 0a5.05 5.05 0 1 0 -10.10 0M995.10 704.86a5.05 5.05 0 1 0 10.10 0a5.05 5.05 0 1 0 -10.10 0M996.02 704.86a5.05 5.05 0 1 0 10.10 0a5.05 5.05 0 1 0 -10.10 0M996.95 727.25a5.05 5.05 0 1 0 10.10 0a5.05 5.05 0 1 0 -10.10 0M997.87 714.81a5.05 5.05 0 1 0 10.10 0a5.05 5.05 0 1 0 -10.10 0M998.79 712.32a5.05 5.05 0 1 0 10.10 0a5.05 5.05 0 1 0 -10.10 0M999.71 719.79a5.05 5.05 0 1 0 10.10 0a5.05 5.05 0 1 0 -10.10 0M1000.63 712.32a5.05 5.05 0 1 0 10.10 0a5.05 5.05 0 1 0 -10.10 0M1001.56 727.25a5.05 5.05 0 1 0 10.10 0a5.05 5.05 0 1 0 -10.10 0M1002.48 622.74a5.05 5.05 0 1 0 10.10 0a5.05 5.05 0 1 0 -10.10 0M1003.40 714.81a5.05 5.05 0 1 0 10.10 0a5.05 5.05 0 1 0 -10.10 0M1004.32 727.25a5.05 5.05 0 1 0 10.10 0a5.05 5.05 0 1 0 -10.10 0M1005.25 679.97a5.05 5.05 0 1 0 10.10 0a5.05 5.05 0 1 0 -10.10 0M1006.17 719.79a5.05 5.05 0 1 0 10.10 0a5.05 5.05 0 1 0 -10.10 0M1007.09 727.25a5.05 5.05 0 1 0 10.10 0a5.05 5.05 0 1 0 -10.10 0M1008.01 717.30a5.05 5.05 0 1 0 10.10 0a5.05 5.05 0 1 0 -10.10 0M1008.93 675.00a5.05 5.05 0 1 0 10.10 0a5.05 5.05 0 1 0 -10.10 0M1009.86 727.25a5.05 5.05 0 1 0 10.10 0a5.05 5.05 0 1 0 -10.10 0M1010.78 717.30a5.05 5.05 0 1 0 10.10 0a5.05 5.05 0 1 0 -10.10 0M1011.70 677.48a5.05 5.05 0 1 0 10.10 0a5.05 5.05 0 1 0 -10.10 0M1012.62 719.79a5.05 5.05 0 1 0 10.10 0a5.05 5.05 0 1 0 -10.10 0M1013.54 727.25a5.05 5.05 0 1 0 10.10 0a5.05 5.05 0 1 0 -10.10 0M1014.47 717.30a5.05 5.05 0 1 0 10.10 0a5.05 5.05 0 1 0 -10.10 0M1015.39 722.27a5.05 5.05 0 1 0 10.10 0a5.05 5.05 0 1 0 -10.10 0M1016.31 724.76a5.05 5.05 0 1 0 10.10 0a5.05 5.05 0 1 0 -10.10 0M1017.23 722.27a5.05 5.05 0 1 0 10.10 0a5.05 5.05 0 1 0 -10.10 0M1018.15 719.79a5.05 5.05 0 1 0 10.10 0a5.05 5.05 0 1 0 -10.10 0M1019.08 712.32a5.05 5.05 0 1 0 10.10 0a5.05 5.05 0 1 0 -10.10 0M1020.00 724.76a5.05 5.05 0 1 0 10.10 0a5.05 5.05 0 1 0 -10.10 0M1020.92 727.25a5.05 5.05 0 1 0 10.10 0a5.05 5.05 0 1 0 -10.10 0M1021.84 699.88a5.05 5.05 0 1 0 10.10 0a5.05 5.05 0 1 0 -10.10 0M1022.77 727.25a5.05 5.05 0 1 0 10.10 0a5.05 5.05 0 1 0 -10.10 0M1023.69 717.30a5.05 5.05 0 1 0 10.10 0a5.05 5.05 0 1 0 -10.10 0M1024.61 722.27a5.05 5.05 0 1 0 10.10 0a5.05 5.05 0 1 0 -10.10 0M1025.53 709.83a5.05 5.05 0 1 0 10.10 0a5.05 5.05 0 1 0 -10.10 0M1026.45 717.30a5.05 5.05 0 1 0 10.10 0a5.05 5.05 0 1 0 -10.10 0M1027.38 719.79a5.05 5.05 0 1 0 10.10 0a5.05 5.05 0 1 0 -10.10 0M1028.30 707.34a5.05 5.05 0 1 0 10.10 0a5.05 5.05 0 1 0 -10.10 0M1029.22 665.04a5.05 5.05 0 1 0 10.10 0a5.05 5.05 0 1 0 -10.10 0M1030.14 652.60a5.05 5.05 0 1 0 10.10 0a5.05 5.05 0 1 0 -10.10 0M1031.06 704.86a5.05 5.05 0 1 0 10.10 0a5.05 5.05 0 1 0 -10.10 0M1031.99 712.32a5.05 5.05 0 1 0 10.10 0a5.05 5.05 0 1 0 -10.10 0M1032.91 717.30a5.05 5.05 0 1 0 10.10 0a5.05 5.05 0 1 0 -10.10 0M1033.83 702.37a5.05 5.05 0 1 0 10.10 0a5.05 5.05 0 1 0 -10.10 0M1034.75 712.32a5.05 5.05 0 1 0 10.10 0a5.05 5.05 0 1 0 -10.10 0M1035.67 694.90a5.05 5.05 0 1 0 10.10 0a5.05 5.05 0 1 0 -10.10 0M1036.60 605.32a5.05 5.05 0 1 0 10.10 0a5.05 5.05 0 1 0 -10.10 0M1037.52 657.58a5.05 5.05 0 1 0 10.10 0a5.05 5.05 0 1 0 -10.10 0M1038.44 722.27a5.05 5.05 0 1 0 10.10 0a5.05 5.05 0 1 0 -10.10 0M1039.36 689.93a5.05 5.05 0 1 0 10.10 0a5.05 5.05 0 1 0 -10.10 0M1040.29 712.32a5.05 5.05 0 1 0 10.10 0a5.05 5.05 0 1 0 -10.10 0M1041.21 727.25a5.05 5.05 0 1 0 10.10 0a5.05 5.05 0 1 0 -10.10 0M1042.13 717.30a5.05 5.05 0 1 0 10.10 0a5.05 5.05 0 1 0 -10.10 0M1043.05 702.37a5.05 5.05 0 1 0 10.10 0a5.05 5.05 0 1 0 -10.10 0M1043.97 670.02a5.05 5.05 0 1 0 10.10 0a5.05 5.05 0 1 0 -10.10 0M1044.90 714.81a5.05 5.05 0 1 0 10.10 0a5.05 5.05 0 1 0 -10.10 0M1045.82 684.95a5.05 5.05 0 1 0 10.10 0a5.05 5.05 0 1 0 -10.10 0M1046.74 714.81a5.05 5.05 0 1 0 10.10 0a5.05 5.05 0 1 0 -10.10 0M1047.66 727.25a5.05 5.05 0 1 0 10.10 0a5.05 5.05 0 1 0 -10.10 0M1048.58 719.79a5.05 5.05 0 1 0 10.10 0a5.05 5.05 0 1 0 -10.10 0M1049.51 694.90a5.05 5.05 0 1 0 10.10 0a5.05 5.05 0 1 0 -10.10 0M1050.43 652.60a5.05 5.05 0 1 0 10.10 0a5.05 5.05 0 1 0 -10.10 0M1051.35 694.90a5.05 5.05 0 1 0 10.10 0a5.05 5.05 0 1 0 -10.10 0M1052.27 620.25a5.05 5.05 0 1 0 10.10 0a5.05 5.05 0 1 0 -10.10 0M1053.19 707.34a5.05 5.05 0 1 0 10.10 0a5.05 5.05 0 1 0 -10.10 0M1054.12 719.79a5.05 5.05 0 1 0 10.10 0a5.05 5.05 0 1 0 -10.10 0M1055.04 719.79a5.05 5.05 0 1 0 10.10 0a5.05 5.05 0 1 0 -10.10 0M1055.96 727.25a5.05 5.05 0 1 0 10.10 0a5.05 5.05 0 1 0 -10.10 0M1056.88 712.32a5.05 5.05 0 1 0 10.10 0a5.05 5.05 0 1 0 -10.10 0" fill="none" stroke="#cccccc" stroke-width="1.9"/>
<path d="M140.76 727.25L877.51 727.25L878.44 702.17L879.36 714.78L880.28 708.36L881.20 695.46L882.12 713.52L883.05 708.23L883.97 722.54L884.89 686.52L885.81 707.23L886.73 716.28L887.66 704.32L888.58 694.13L889.50 716.32L890.42 707.85L891.34 642.77L892.27 709.18L893.19 687.22L894.11 716.63L895.03 726.74L895.96 710.00L896.88 719.70L897.80 726.10L898.72 690.76L899.64 710.65L900.57 721.75L901.49 725.38L902.41 712.28L903.33 682.39L904.25 713.83L905.18 720.84L906.10 726.54L907.02 716.70L907.94 705.77L908.86 719.56L909.79 682.94L910.71 713.46L911.63 724.99L912.55 707.59L913.48 684.19L914.40 713.02L915.32 707.69L916.24 718.64L917.16 683.84L918.09 724.56L919.01 713.60L919.93 696.83L920.85 712.35L921.77 718.82L922.70 654.84L923.62 714.92L924.54 722.39L925.46 724.42L926.38 719.63L927.31 684.94L928.23 717.53L929.15 722.62L930.07 719.82L931.00 704.34L931.92 717.06L932.84 718.48L933.76 724.39L934.68 713.51L935.61 606.07L936.53 726.68L937.45 652.43L938.37 718.66L939.29 726.19L940.22 719.82L941.14 725.67L942.06 714.69L942.98 642.77L943.90 724.71L944.83 722.93L945.75 719.87L946.67 719.62L947.59 688.56L948.51 701.30L949.44 717.83L950.36 721.03L951.28 715.50L952.20 719.69L953.13 652.43L954.05 716.56L954.97 703.65L955.89 719.61L956.81 709.42L957.74 725.97L958.66 720.05L959.58 714.25L960.50 693.74L961.42 710.81L962.35 721.08L963.27 726.48L964.19 722.44L965.11 725.18L966.03 720.71L966.96 560.53L967.88 687.75L968.80 723.38L969.72 723.23L970.65 724.09L971.57 724.70L972.49 726.05L973.41 718.25L974.33 708.92L975.26 689.15L976.18 719.84L977.10 710.81L978.02 715.62L978.94 628.29L979.87 712.48L980.79 723.16L981.71 714.63L982.63 720.75L983.55 710.39L984.48 687.74L985.40 723.62L986.32 710.94L987.24 683.24L988.17 625.88L989.09 726.64L990.01 715.67L990.93 717.03L991.85 698.05L992.78 714.76L993.70 708.05L994.62 718.83L995.54 695.48L996.46 724.32L997.39 691.12L998.31 709.97L999.23 716.86L1000.15 708.62L1001.07 719.94L1002.00 724.86L1002.92 717.12L1003.84 711.79L1004.76 719.15L1005.68 715.13L1006.61 726.75L1007.53 625.88L1008.45 715.14L1009.37 726.34L1010.30 690.21L1011.22 721.45L1012.14 724.51L1013.06 716.02L1013.98 681.02L1014.91 726.17L1015.83 719.53L1016.75 681.72L1017.67 722.18L1018.59 725.05L1019.52 717.55L1020.44 721.57L1021.36 723.02L1022.28 722.21L1023.20 720.25L1024.13 711.85L1025.05 721.13L1025.97 722.17L1026.89 701.92L1027.82 724.60L1028.74 718.38L1029.66 722.41L1030.58 711.51L1031.50 717.95L1032.43 719.17L1033.35 710.74L1034.27 672.55L1035.19 654.84L1036.11 710.10L1037.04 716.19L1037.96 715.43L1038.88 704.81L1039.80 711.55L1040.72 700.42L1041.65 608.98L1042.57 672.31L1043.49 717.91L1044.41 695.61L1045.34 713.18L1046.26 726.29L1047.18 716.36L1048.10 704.60L1049.02 678.13L1049.95 715.01L1050.87 693.10L1051.79 713.17L1052.71 724.57L1053.63 719.42L1054.56 701.63L1055.48 654.84L1056.40 699.76L1057.32 623.46L1058.24 710.58L1059.17 717.36L1060.09 720.77L1061.01 726.75L1061.93 712.85" fill="none" stroke="#000000" stroke-width="2" stroke-linejoin="round" stroke-linecap="round"/>
<rect x="103.91" y="535.91" width="994.87" height="198.84" fill="none" stroke="#000" stroke-width="2" stroke-linejoin="round"/>
<path d="M139.83 734.75V747.42M324.25 734.75V747.42M508.67 734.75V747.42M693.09 734.75V747.42M877.51 734.75V747.42M1061.93 734.75V747.42M103.91 727.25H91.24M103.91 677.48H91.24M103.91 627.72H91.24M103.91 577.95H91.24" stroke="#000" stroke-width="2" stroke-linecap="round" fill="none"/>
<text x="133.61" y="779.75" font-size="23.00" textLength="12.48" lengthAdjust="spacingAndGlyphs">0</text>
<text x="304.44" y="779.75" font-size="23.00" textLength="39.63" lengthAdjust="spacingAndGlyphs">200</text>
<text x="489.00" y="779.75" font-size="23.00" textLength="39.48" lengthAdjust="spacingAndGlyphs">400</text>
<text x="673.14" y="779.75" font-size="23.00" textLength="39.77" lengthAdjust="spacingAndGlyphs">600</text>
<text x="857.70" y="779.75" font-size="23.00" textLength="39.63" lengthAdjust="spacingAndGlyphs">800</text>
<text x="1035.57" y="779.75" font-size="23.00" textLength="52.93" lengthAdjust="spacingAndGlyphs">1000</text>
<text transform="translate(73.00 0) rotate(-89.95)" x="-733.48" y="0" font-size="23.00" textLength="12.49" lengthAdjust="spacingAndGlyphs">0</text>
<text transform="translate(73.00 0) rotate(-89.95)" x="-690.58" y="0" font-size="23.00" textLength="26.14" lengthAdjust="spacingAndGlyphs">20</text>
<text transform="translate(73.00 0) rotate(-89.95)" x="-640.67" y="0" font-size="23.00" textLength="26.00" lengthAdjust="spacingAndGlyphs">40</text>
<text transform="translate(73.00 0) rotate(-89.95)" x="-591.17" y="0" font-size="23.00" textLength="26.27" lengthAdjust="spacingAndGlyphs">60</text>
<text x="572.18" y="830.80" font-size="23.00" textLength="58.12" lengthAdjust="spacingAndGlyphs">Index</text>
<text transform="translate(22.60 0) rotate(-89.95)" x="-640.39" y="0" font-size="21.70" textLength="11.95" lengthAdjust="spacingAndGlyphs">y</text>
<text x="576.26" y="492.80" font-size="26.30" font-weight="bold" stroke="#000" stroke-width="0.3" textLength="49.97" lengthAdjust="spacingAndGlyphs">ash</text>
<path d="M140.76 1159.25H877.51" stroke="#cccccc" stroke-width="12.00" stroke-linecap="round" fill="none"/>
<path d="M873.39 1131.88a5.05 5.05 0 1 0 10.10 0a5.05 5.05 0 1 0 -10.10 0M874.31 1121.93a5.05 5.05 0 1 0 10.10 0a5.05 5.05 0 1 0 -10.10 0M875.23 1141.83a5.05 5.05 0 1 0 10.10 0a5.05 5.05 0 1 0 -10.10 0M876.15 1121.93a5.05 5.05 0 1 0 10.10 0a5.05 5.05 0 1 0 -10.10 0M877.07 1146.81a5.05 5.05 0 1 0 10.10 0a5.05 5.05 0 1 0 -10.10 0M878.00 1136.86a5.05 5.05 0 1 0 10.10 0a5.05 5.05 0 1 0 -10.10 0M878.92 1114.46a5.05 5.05 0 1 0 10.10 0a5.05 5.05 0 1 0 -10.10 0M879.84 1111.97a5.05 5.05 0 1 0 10.10 0a5.05 5.05 0 1 0 -10.10 0M880.76 1136.86a5.05 5.05 0 1 0 10.10 0a5.05 5.05 0 1 0 -10.10 0M881.68 1149.30a5.05 5.05 0 1 0 10.10 0a5.05 5.05 0 1 0 -10.10 0M882.61 1107.00a5.05 5.05 0 1 0 10.10 0a5.05 5.05 0 1 0 -10.10 0M883.53 1124.41a5.05 5.05 0 1 0 10.10 0a5.05 5.05 0 1 0 -10.10 0M884.45 1149.30a5.05 5.05 0 1 0 10.10 0a5.05 5.05 0 1 0 -10.10 0M885.37 1136.86a5.05 5.05 0 1 0 10.10 0a5.05 5.05 0 1 0 -10.10 0M886.29 1072.16a5.05 5.05 0 1 0 10.10 0a5.05 5.05 0 1 0 -10.10 0M887.22 1136.86a5.05 5.05 0 1 0 10.10 0a5.05 5.05 0 1 0 -10.10 0M888.14 1116.95a5.05 5.05 0 1 0 10.10 0a5.05 5.05 0 1 0 -10.10 0M889.06 1146.81a5.05 5.05 0 1 0 10.10 0a5.05 5.05 0 1 0 -10.10 0M889.98 1159.25a5.05 5.05 0 1 0 10.10 0a5.05 5.05 0 1 0 -10.10 0M890.91 1114.46a5.05 5.05 0 1 0 10.10 0a5.05 5.05 0 1 0 -10.10 0M891.83 1151.79a5.05 5.05 0 1 0 10.10 0a5.05 5.05 0 1 0 -10.10 0M892.75 1159.25a5.05 5.05 0 1 0 10.10 0a5.05 5.05 0 1 0 -10.10 0M893.67 1114.46a5.05 5.05 0 1 0 10.10 0a5.05 5.05 0 1 0 -10.10 0M894.59 1144.32a5.05 5.05 0 1 0 10.10 0a5.05 5.05 0 1 0 -10.10 0M895.52 1154.27a5.05 5.05 0 1 0 10.10 0a5.05 5.05 0 1 0 -10.10 0M896.44 1154.27a5.05 5.05 0 1 0 10.10 0a5.05 5.05 0 1 0 -10.10 0M897.36 1146.81a5.05 5.05 0 1 0 10.10 0a5.05 5.05 0 1 0 -10.10 0M898.28 1107.00a5.05 5.05 0 1 0 10.10 0a5.05 5.05 0 1 0 -10.10 0M899.20 1146.81a5.05 5.05 0 1 0 10.10 0a5.05 5.05 0 1 0 -10.10 0M900.13 1149.30a5.05 5.05 0 1 0 10.10 0a5.05 5.05 0 1 0 -10.10 0M901.05 1159.25a5.05 5.05 0 1 0 10.10 0a5.05 5.05 0 1 0 -10.10 0M901.97 1149.30a5.05 5.05 0 1 0 10.10 0a5.05 5.05 0 1 0 -10.10 0M902.89 1136.86a5.05 5.05 0 1 0 10.10 0a5.05 5.05 0 1 0 -10.10 0M903.81 1154.27a5.05 5.05 0 1 0 10.10 0a5.05 5.05 0 1 0 -10.10 0M904.74 1107.00a5.05 5.05 0 1 0 10.10 0a5.05 5.05 0 1 0 -10.10 0M905.66 1144.32a5.05 5.05 0 1 0 10.10 0a5.05 5.05 0 1 0 -10.10 0M906.58 1156.76a5.05 5.05 0 1 0 10.10 0a5.05 5.05 0 1 0 -10.10 0M907.50 1139.34a5.05 5.05 0 1 0 10.10 0a5.05 5.05 0 1 0 -10.10 0M908.43 1109.48a5.05 5.05 0 1 0 10.10 0a5.05 5.05 0 1 0 -10.10 0M909.35 1146.81a5.05 5.05 0 1 0 10.10 0a5.05 5.05 0 1 0 -10.10 0M910.27 1139.34a5.05 5.05 0 1 0 10.10 0a5.05 5.05 0 1 0 -10.10 0M911.19 1154.27a5.05 5.05 0 1 0 10.10 0a5.05 5.05 0 1 0 -10.10 0M912.11 1109.48a5.05 5.05 0 1 0 10.10 0a5.05 5.05 0 1 0 -10.10 0M913.04 1159.25a5.05 5.05 0 1 0 10.10 0a5.05 5.05 0 1 0 -10.10 0M913.96 1146.81a5.05 5.05 0 1 0 10.10 0a5.05 5.05 0 1 0 -10.10 0M914.88 1124.41a5.05 5.05 0 1 0 10.10 0a5.05 5.05 0 1 0 -10.10 0M915.80 1144.32a5.05 5.05 0 1 0 10.10 0a5.05 5.05 0 1 0 -10.10 0M916.72 1154.27a5.05 5.05 0 1 0 10.10 0a5.05 5.05 0 1 0 -10.10 0M917.65 1084.60a5.05 5.05 0 1 0 10.10 0a5.05 5.05 0 1 0 -10.10 0M918.57 1144.32a5.05 5.05 0 1 0 10.10 0a5.05 5.05 0 1 0 -10.10 0M919.49 1159.25a5.05 5.05 0 1 0 10.10 0a5.05 5.05 0 1 0 -10.10 0M920.41 1159.25a5.05 5.05 0 1 0 10.10 0a5.05 5.05 0 1 0 -10.10 0M921.33 1154.27a5.05 5.05 0 1 0 10.10 0a5.05 5.05 0 1 0 -10.10 0M922.26 1111.97a5.05 5.05 0 1 0 10.10 0a5.05 5.05 0 1 0 -10.10 0M923.18 1149.30a5.05 5.05 0 1 0 10.10 0a5.05 5.05 0 1 0 -10.10 0M924.10 1159.25a5.05 5.05 0 1 0 10.10 0a5.05 5.05 0 1 0 -10.10 0M925.02 1154.27a5.05 5.05 0 1 0 10.10 0a5.05 5.05 0 1 0 -10.10 0M925.95 1131.88a5.05 5.05 0 1 0 10.10 0a5.05 5.05 0 1 0 -10.10 0M926.87 1149.30a5.05 5.05 0 1 0 10.10 0a5.05 5.05 0 1 0 -10.10 0M927.79 1154.27a5.05 5.05 0 1 0 10.10 0a5.05 5.05 0 1 0 -10.10 0M928.71 1159.25a5.05 5.05 0 1 0 10.10 0a5.05 5.05 0 1 0 -10.10 0M929.63 1144.32a5.05 5.05 0 1 0 10.10 0a5.05 5.05 0 1 0 -10.10 0M930.56 1029.86a5.05 5.05 0 1 0 10.10 0a5.05 5.05 0 1 0 -10.10 0M931.48 1159.25a5.05 5.05 0 1 0 10.10 0a5.05 5.05 0 1 0 -10.10 0M932.40 1082.11a5.05 5.05 0 1 0 10.10 0a5.05 5.05 0 1 0 -10.10 0M933.32 1149.30a5.05 5.05 0 1 0 10.10 0a5.05 5.05 0 1 0 -10.10 0M934.24 1159.25a5.05 5.05 0 1 0 10.10 0a5.05 5.05 0 1 0 -10.10 0M935.17 1154.27a5.05 5.05 0 1 0 10.10 0a5.05 5.05 0 1 0 -10.10 0M936.09 1159.25a5.05 5.05 0 1 0 10.10 0a5.05 5.05 0 1 0 -10.10 0M937.01 1146.81a5.05 5.05 0 1 0 10.10 0a5.05 5.05 0 1 0 -10.10 0M937.93 1072.16a5.05 5.05 0 1 0 10.10 0a5.05 5.05 0 1 0 -10.10 0M938.85 1156.76a5.05 5.05 0 1 0 10.10 0a5.05 5.05 0 1 0 -10.10 0M939.78 1156.76a5.05 5.05 0 1 0 10.10 0a5.05 5.05 0 1 0 -10.10 0M940.70 1154.27a5.05 5.05 0 1 0 10.10 0a5.05 5.05 0 1 0 -10.10 0M941.62 1154.27a5.05 5.05 0 1 0 10.10 0a5.05 5.05 0 1 0 -10.10 0M942.54 1114.46a5.05 5.05 0 1 0 10.10 0a5.05 5.05 0 1 0 -10.10 0M943.46 1129.39a5.05 5.05 0 1 0 10.10 0a5.05 5.05 0 1 0 -10.10 0M944.39 1149.30a5.05 5.05 0 1 0 10.10 0a5.05 5.05 0 1 0 -10.10 0M945.31 1156.76a5.05 5.05 0 1 0 10.10 0a5.05 5.05 0 1 0 -10.10 0M946.23 1146.81a5.05 5.05 0 1 0 10.10 0a5.05 5.05 0 1 0 -10.10 0M947.15 1149.30a5.05 5.05 0 1 0 10.10 0a5.05 5.05 0 1 0 -10.10 0M948.08 1082.11a5.05 5.05 0 1 0 10.10 0a5.05 5.05 0 1 0 -10.10 0M949.00 1149.30a5.05 5.05 0 1 0 10.10 0a5.05 5.05 0 1 0 -10.10 0M949.92 1131.88a5.05 5.05 0 1 0 10.10 0a5.05 5.05 0 1 0 -10.10 0M950.84 1154.27a5.05 5.05 0 1 0 10.10 0a5.05 5.05 0 1 0 -10.10 0M951.76 1141.83a5.05 5.05 0 1 0 10.10 0a5.05 5.05 0 1 0 -10.10 0M952.69 1159.25a5.05 5.05 0 1 0 10.10 0a5.05 5.05 0 1 0 -10.10 0M953.61 1154.27a5.05 5.05 0 1 0 10.10 0a5.05 5.05 0 1 0 -10.10 0M954.53 1146.81a5.05 5.05 0 1 0 10.10 0a5.05 5.05 0 1 0 -10.10 0M955.45 1119.44a5.05 5.05 0 1 0 10.10 0a5.05 5.05 0 1 0 -10.10 0M956.37 1141.83a5.05 5.05 0 1 0 10.10 0a5.05 5.05 0 1 0 -10.10 0M957.30 1156.76a5.05 5.05 0 1 0 10.10 0a5.05 5.05 0 1 0 -10.10 0M958.22 1154.27a5.05 5.05 0 1 0 10.10 0a5.05 5.05 0 1 0 -10.10 0M959.14 1159.25a5.05 5.05 0 1 0 10.10 0a5.05 5.05 0 1 0 -10.10 0M960.06 1159.25a5.05 5.05 0 1 0 10.10 0a5.05 5.05 0 1 0 -10.10 0M960.98 1154.27a5.05 5.05 0 1 0 10.10 0a5.05 5.05 0 1 0 -10.10 0M961.91 975.12a5.05 5.05 0 1 0 10.10 0a5.05 5.05 0 1 0 -10.10 0M962.83 1109.48a5.05 5.05 0 1 0 10.10 0a5.05 5.05 0 1 0 -10.10 0M963.75 1156.76a5.05 5.05 0 1 0 10.10 0a5.05 5.05 0 1 0 -10.10 0M964.67 1159.25a5.05 5.05 0 1 0 10.10 0a5.05 5.05 0 1 0 -10.10 0M965.60 1156.76a5.05 5.05 0 1 0 10.10 0a5.05 5.05 0 1 0 -10.10 0M966.52 1156.76a5.05 5.05 0 1 0 10.10 0a5.05 5.05 0 1 0 -10.10 0M967.44 1159.25a5.05 5.05 0 1 0 10.10 0a5.05 5.05 0 1 0 -10.10 0M968.36 1149.30a5.05 5.05 0 1 0 10.10 0a5.05 5.05 0 1 0 -10.10 0M969.28 1136.86a5.05 5.05 0 1 0 10.10 0a5.05 5.05 0 1 0 -10.10 0M970.21 1116.95a5.05 5.05 0 1 0 10.10 0a5.05 5.05 0 1 0 -10.10 0M971.13 1149.30a5.05 5.05 0 1 0 10.10 0a5.05 5.05 0 1 0 -10.10 0M972.05 1136.86a5.05 5.05 0 1 0 10.10 0a5.05 5.05 0 1 0 -10.10 0M972.97 1144.32a5.05 5.05 0 1 0 10.10 0a5.05 5.05 0 1 0 -10.10 0M973.89 1057.23a5.05 5.05 0 1 0 10.10 0a5.05 5.05 0 1 0 -10.10 0M974.82 1144.32a5.05 5.05 0 1 0 10.10 0a5.05 5.05 0 1 0 -10.10 0M975.74 1159.25a5.05 5.05 0 1 0 10.10 0a5.05 5.05 0 1 0 -10.10 0M976.66 1146.81a5.05 5.05 0 1 0 10.10 0a5.05 5.05 0 1 0 -10.10 0M977.58 1149.30a5.05 5.05 0 1 0 10.10 0a5.05 5.05 0 1 0 -10.10 0M978.50 1144.32a5.05 5.05 0 1 0 10.10 0a5.05 5.05 0 1 0 -10.10 0M979.43 1119.44a5.05 5.05 0 1 0 10.10 0a5.05 5.05 0 1 0 -10.10 0M980.35 1159.25a5.05 5.05 0 1 0 10.10 0a5.05 5.05 0 1 0 -10.10 0M981.27 1144.32a5.05 5.05 0 1 0 10.10 0a5.05 5.05 0 1 0 -10.10 0M982.19 1107.00a5.05 5.05 0 1 0 10.10 0a5.05 5.05 0 1 0 -10.10 0M983.12 1054.74a5.05 5.05 0 1 0 10.10 0a5.05 5.05 0 1 0 -10.10 0M984.04 1159.25a5.05 5.05 0 1 0 10.10 0a5.05 5.05 0 1 0 -10.10 0M984.96 1146.81a5.05 5.05 0 1 0 10.10 0a5.05 5.05 0 1 0 -10.10 0M985.88 1149.30a5.05 5.05 0 1 0 10.10 0a5.05 5.05 0 1 0 -10.10 0M986.80 1121.93a5.05 5.05 0 1 0 10.10 0a5.05 5.05 0 1 0 -10.10 0M987.73 1146.81a5.05 5.05 0 1 0 10.10 0a5.05 5.05 0 1 0 -10.10 0M988.65 1139.34a5.05 5.05 0 1 0 10.10 0a5.05 5.05 0 1 0 -10.10 0M989.57 1154.27a5.05 5.05 0 1 0 10.10 0a5.05 5.05 0 1 0 -10.10 0M990.49 1124.41a5.05 5.05 0 1 0 10.10 0a5.05 5.05 0 1 0 -10.10 0M991.41 1159.25a5.05 5.05 0 1 0 10.10 0a5.05 5.05 0 1 0 -10.10 0M992.34 1114.46a5.05 5.05 0 1 0 10.10 0a5.05 5.05 0 1 0 -10.10 0M993.26 1141.83a5.05 5.05 0 1 0 10.10 0a5.05 5.05 0 1 0 -10.10 0M994.18 1146.81a5.05 5.05 0 1 0 10.10 0a5.05 5.05 0 1 0 -10.10 0M995.10 1136.86a5.05 5.05 0 1 0 10.10 0a5.05 5.05 0 1 0 -10.10 0M996.02 1136.86a5.05 5.05 0 1 0 10.10 0a5.05 5.05 0 1 0 -10.10 0M996.95 1159.25a5.05 5.05 0 1 0 10.10 0a5.05 5.05 0 1 0 -10.10 0M997.87 1146.81a5.05 5.05 0 1 0 10.10 0a5.05 5.05 0 1 0 -10.10 0M998.79 1144.32a5.05 5.05 0 1 0 10.10 0a5.05 5.05 0 1 0 -10.10 0M999.71 1151.79a5.05 5.05 0 1 0 10.10 0a5.05 5.05 0 1 0 -10.10 0M1000.63 1144.32a5.05 5.05 0 1 0 10.10 0a5.05 5.05 0 1 0 -10.10 0M1001.56 1159.25a5.05 5.05 0 1 0 10.10 0a5.05 5.05 0 1 0 -10.10 0M1002.48 1054.74a5.05 5.05 0 1 0 10.10 0a5.05 5.05 0 1 0 -10.10 0M1003.40 1146.81a5.05 5.05 0 1 0 10.10 0a5.05 5.05 0 1 0 -10.10 0M1004.32 1159.25a5.05 5.05 0 1 0 10.10 0a5.05 5.05 0 1 0 -10.10 0M1005.25 1111.97a5.05 5.05 0 1 0 10.10 0a5.05 5.05 0 1 0 -10.10 0M1006.17 1151.79a5.05 5.05 0 1 0 10.10 0a5.05 5.05 0 1 0 -10.10 0M1007.09 1159.25a5.05 5.05 0 1 0 10.10 0a5.05 5.05 0 1 0 -10.10 0M1008.01 1149.30a5.05 5.05 0 1 0 10.10 0a5.05 5.05 0 1 0 -10.10 0M1008.93 1107.00a5.05 5.05 0 1 0 10.10 0a5.05 5.05 0 1 0 -10.10 0M1009.86 1159.25a5.05 5.05 0 1 0 10.10 0a5.05 5.05 0 1 0 -10.10 0M1010.78 1149.30a5.05 5.05 0 1 0 10.10 0a5.05 5.05 0 1 0 -10.10 0M1011.70 1109.48a5.05 5.05 0 1 0 10.10 0a5.05 5.05 0 1 0 -10.10 0M1012.62 1151.79a5.05 5.05 0 1 0 10.10 0a5.05 5.05 0 1 0 -10.10 0M1013.54 1159.25a5.05 5.05 0 1 0 10.10 0a5.05 5.05 0 1 0 -10.10 0M1014.47 1149.30a5.05 5.05 0 1 0 10.10 0a5.05 5.05 0 1 0 -10.10 0M1015.39 1154.27a5.05 5.05 0 1 0 10.10 0a5.05 5.05 0 1 0 -10.10 0M1016.31 1156.76a5.05 5.05 0 1 0 10.10 0a5.05 5.05 0 1 0 -10.10 0M1017.23 1154.27a5.05 5.05 0 1 0 10.10 0a5.05 5.05 0 1 0 -10.10 0M1018.15 1151.79a5.05 5.05 0 1 0 10.10 0a5.05 5.05 0 1 0 -10.10 0M1019.08 1144.32a5.05 5.05 0 1 0 10.10 0a5.05 5.05 0 1 0 -10.10 0M1020.00 1156.76a5.05 5.05 0 1 0 10.10 0a5.05 5.05 0 1 0 -10.10 0M1020.92 1159.25a5.05 5.05 0 1 0 10.10 0a5.05 5.05 0 1 0 -10.10 0M1021.84 1131.88a5.05 5.05 0 1 0 10.10 0a5.05 5.05 0 1 0 -10.10 0M1022.77 1159.25a5.05 5.05 0 1 0 10.10 0a5.05 5.05 0 1 0 -10.10 0M1023.69 1149.30a5.05 5.05 0 1 0 10.10 0a5.05 5.05 0 1 0 -10.10 0M1024.61 1154.27a5.05 5.05 0 1 0 10.10 0a5.05 5.05 0 1 0 -10.10 0M1025.53 1141.83a5.05 5.05 0 1 0 10.10 0a5.05 5.05 0 1 0 -10.10 0M1026.45 1149.30a5.05 5.05 0 1 0 10.10 0a5.05 5.05 0 1 0 -10.10 0M1027.38 1151.79a5.05 5.05 0 1 0 10.10 0a5.05 5.05 0 1 0 -10.10 0M1028.30 1139.34a5.05 5.05 0 1 0 10.10 0a5.05 5.05 0 1 0 -10.10 0M1029.22 1097.04a5.05 5.05 0 1 0 10.10 0a5.05 5.05 0 1 0 -10.10 0M1030.14 1084.60a5.05 5.05 0 1 0 10.10 0a5.05 5.05 0 1 0 -10.10 0M1031.06 1136.86a5.05 5.05 0 1 0 10.10 0a5.05 5.05 0 1 0 -10.10 0M1031.99 1144.32a5.05 5.05 0 1 0 10.10 0a5.05 5.05 0 1 0 -10.10 0M1032.91 1149.30a5.05 5.05 0 1 0 10.10 0a5.05 5.05 0 1 0 -10.10 0M1033.83 1134.37a5.05 5.05 0 1 0 10.10 0a5.05 5.05 0 1 0 -10.10 0M1034.75 1144.32a5.05 5.05 0 1 0 10.10 0a5.05 5.05 0 1 0 -10.10 0M1035.67 1126.90a5.05 5.05 0 1 0 10.10 0a5.05 5.05 0 1 0 -10.10 0M1036.60 1037.32a5.05 5.05 0 1 0 10.10 0a5.05 5.05 0 1 0 -10.10 0M1037.52 1089.58a5.05 5.05 0 1 0 10.10 0a5.05 5.05 0 1 0 -10.10 0M1038.44 1154.27a5.05 5.05 0 1 0 10.10 0a5.05 5.05 0 1 0 -10.10 0M1039.36 1121.93a5.05 5.05 0 1 0 10.10 0a5.05 5.05 0 1 0 -10.10 0M1040.29 1144.32a5.05 5.05 0 1 0 10.10 0a5.05 5.05 0 1 0 -10.10 0M1041.21 1159.25a5.05 5.05 0 1 0 10.10 0a5.05 5.05 0 1 0 -10.10 0M1042.13 1149.30a5.05 5.05 0 1 0 10.10 0a5.05 5.05 0 1 0 -10.10 0M1043.05 1134.37a5.05 5.05 0 1 0 10.10 0a5.05 5.05 0 1 0 -10.10 0M1043.97 1102.02a5.05 5.05 0 1 0 10.10 0a5.05 5.05 0 1 0 -10.10 0M1044.90 1146.81a5.05 5.05 0 1 0 10.10 0a5.05 5.05 0 1 0 -10.10 0M1045.82 1116.95a5.05 5.05 0 1 0 10.10 0a5.05 5.05 0 1 0 -10.10 0M1046.74 1146.81a5.05 5.05 0 1 0 10.10 0a5.05 5.05 0 1 0 -10.10 0M1047.66 1159.25a5.05 5.05 0 1 0 10.10 0a5.05 5.05 0 1 0 -10.10 0M1048.58 1151.79a5.05 5.05 0 1 0 10.10 0a5.05 5.05 0 1 0 -10.10 0M1049.51 1126.90a5.05 5.05 0 1 0 10.10 0a5.05 5.05 0 1 0 -10.10 0M1050.43 1084.60a5.05 5.05 0 1 0 10.10 0a5.05 5.05 0 1 0 -10.10 0M1051.35 1126.90a5.05 5.05 0 1 0 10.10 0a5.05 5.05 0 1 0 -10.10 0M1052.27 1052.25a5.05 5.05 0 1 0 10.10 0a5.05 5.05 0 1 0 -10.10 0M1053.19 1139.34a5.05 5.05 0 1 0 10.10 0a5.05 5.05 0 1 0 -10.10 0M1054.12 1151.79a5.05 5.05 0 1 0 10.10 0a5.05 5.05 0 1 0 -10.10 0M1055.04 1151.79a5.05 5.05 0 1 0 10.10 0a5.05 5.05 0 1 0 -10.10 0M1055.96 1159.25a5.05 5.05 0 1 0 10.10 0a5.05 5.05 0 1 0 -10.10 0M1056.88 1144.32a5.05 5.05 0 1 0 10.10 0a5.05 5.05 0 1 0 -10.10 0" fill="none" stroke="#cccccc" stroke-width="1.9"/>
<path d="M140.76 1159.25L877.51 1159.25L878.44 1132.13L879.36 1144.32L880.28 1139.34L881.20 1124.41L882.12 1146.81L883.05 1139.34L883.97 1156.76L884.89 1114.46L885.81 1136.86L886.73 1149.30L887.66 1134.37L888.58 1124.41L889.50 1149.30L890.42 1139.34L891.34 1072.16L892.27 1139.34L893.19 1114.46L894.11 1146.81L895.03 1159.25L895.96 1142.83L896.88 1151.79L897.80 1159.25L898.72 1116.95L899.64 1144.32L900.57 1154.27L901.49 1159.25L902.41 1146.81L903.33 1107.00L904.25 1146.81L905.18 1151.79L906.10 1159.25L907.02 1149.30L907.94 1136.86L908.86 1151.79L909.79 1109.48L910.71 1144.32L911.63 1159.25L912.55 1139.34L913.48 1111.97L914.40 1146.81L915.32 1139.34L916.24 1151.79L917.16 1111.97L918.09 1159.25L919.01 1146.81L919.93 1126.90L920.85 1144.32L921.77 1151.79L922.70 1084.60L923.62 1146.81L924.54 1156.76L925.46 1159.25L926.38 1151.79L927.31 1111.97L928.23 1149.30L929.15 1156.76L930.07 1151.79L931.00 1134.37L931.92 1149.30L932.84 1151.79L933.76 1159.25L934.68 1144.32L935.61 1029.86L936.53 1159.25L937.45 1082.11L938.37 1149.30L939.29 1159.25L940.22 1151.79L941.14 1159.25L942.06 1146.81L942.98 1072.16L943.90 1159.25L944.83 1156.76L945.75 1151.79L946.67 1154.27L947.59 1116.95L948.51 1131.88L949.44 1149.30L950.36 1154.27L951.28 1146.81L952.20 1151.79L953.13 1082.11L954.05 1149.30L954.97 1131.88L955.89 1151.79L956.81 1141.83L957.74 1159.25L958.66 1154.27L959.58 1146.81L960.50 1121.93L961.42 1144.32L962.35 1154.27L963.27 1159.25L964.19 1156.76L965.11 1159.25L966.03 1154.27L966.96 975.12L967.88 1114.46L968.80 1158.01L969.72 1156.76L970.65 1158.01L971.57 1156.76L972.49 1159.25L973.41 1149.30L974.33 1139.34L975.26 1116.95L976.18 1151.79L977.10 1139.34L978.02 1146.81L978.94 1057.23L979.87 1144.32L980.79 1156.76L981.71 1146.81L982.63 1151.79L983.55 1144.32L984.48 1116.95L985.40 1156.76L986.32 1144.32L987.24 1111.97L988.17 1054.74L989.09 1159.25L990.01 1146.81L990.93 1149.30L991.85 1126.90L992.78 1146.81L993.70 1139.34L994.62 1151.79L995.54 1124.41L996.46 1159.25L997.39 1116.95L998.31 1141.83L999.23 1146.81L1000.15 1139.34L1001.07 1151.79L1002.00 1156.76L1002.92 1149.30L1003.84 1144.32L1004.76 1151.79L1005.68 1146.81L1006.61 1159.25L1007.53 1054.74L1008.45 1146.81L1009.37 1159.25L1010.30 1116.95L1011.22 1154.27L1012.14 1159.25L1013.06 1149.30L1013.98 1107.00L1014.91 1159.25L1015.83 1151.79L1016.75 1109.48L1017.67 1154.27L1018.59 1156.76L1019.52 1151.79L1020.44 1154.27L1021.36 1156.76L1022.28 1154.27L1023.20 1151.79L1024.13 1144.32L1025.05 1154.27L1025.97 1156.76L1026.89 1131.88L1027.82 1159.25L1028.74 1151.79L1029.66 1154.27L1030.58 1141.83L1031.50 1151.79L1032.43 1151.79L1033.35 1139.34L1034.27 1099.53L1035.19 1084.60L1036.11 1139.34L1037.04 1146.81L1037.96 1147.80L1038.88 1134.37L1039.80 1144.32L1040.72 1129.39L1041.65 1037.32L1042.57 1097.04L1043.49 1151.79L1044.41 1121.93L1045.34 1146.81L1046.26 1159.25L1047.18 1149.30L1048.10 1134.37L1049.02 1102.02L1049.95 1146.81L1050.87 1119.44L1051.79 1146.81L1052.71 1157.76L1053.63 1151.79L1054.56 1129.39L1055.48 1084.60L1056.40 1127.90L1057.32 1052.25L1058.24 1139.34L1059.17 1151.79L1060.09 1154.27L1061.01 1159.25L1061.93 1144.32" fill="none" stroke="#000000" stroke-width="2" stroke-linejoin="round" stroke-linecap="round"/>
<rect x="103.91" y="967.91" width="994.87" height="198.84" fill="none" stroke="#000" stroke-width="2" stroke-linejoin="round"/>
<path d="M139.83 1166.75V1179.42M324.25 1166.75V1179.42M508.67 1166.75V1179.42M693.09 1166.75V1179.42M877.51 1166.75V1179.42M1061.93 1166.75V1179.42M103.91 1159.25H91.24M103.91 1109.48H91.24M103.91 1059.72H91.24M103.91 1009.95H91.24" stroke="#000" stroke-width="2" stroke-linecap="round" fill="none"/>
<text x="133.61" y="1211.75" font-size="23.00" textLength="12.48" lengthAdjust="spacingAndGlyphs">0</text>
<text x="304.44" y="1211.75" font-size="23.00" textLength="39.63" lengthAdjust="spacingAndGlyphs">200</text>
<text x="489.00" y="1211.75" font-size="23.00" textLength="39.48" lengthAdjust="spacingAndGlyphs">400</text>
<text x="673.14" y="1211.75" font-size="23.00" textLength="39.77" lengthAdjust="spacingAndGlyphs">600</text>
<text x="857.70" y="1211.75" font-size="23.00" textLength="39.63" lengthAdjust="spacingAndGlyphs">800</text>
<text x="1035.57" y="1211.75" font-size="23.00" textLength="52.93" lengthAdjust="spacingAndGlyphs">1000</text>
<text transform="translate(73.00 0) rotate(-89.95)" x="-1165.48" y="0" font-size="23.00" textLength="12.49" lengthAdjust="spacingAndGlyphs">0</text>
<text transform="translate(73.00 0) rotate(-89.95)" x="-1122.58" y="0" font-size="23.00" textLength="26.14" lengthAdjust="spacingAndGlyphs">20</text>
<text transform="translate(73.00 0) rotate(-89.95)" x="-1072.67" y="0" font-size="23.00" textLength="26.00" lengthAdjust="spacingAndGlyphs">40</text>
<text transform="translate(73.00 0) rotate(-89.95)" x="-1023.17" y="0" font-size="23.00" textLength="26.27" lengthAdjust="spacingAndGlyphs">60</text>
<text x="572.18" y="1262.80" font-size="23.00" textLength="58.12" lengthAdjust="spacingAndGlyphs">Index</text>
<text transform="translate(22.60 0) rotate(-89.95)" x="-1072.39" y="0" font-size="21.70" textLength="11.95" lengthAdjust="spacingAndGlyphs">y</text>
<text x="541.13" y="924.80" font-size="26.30" font-weight="bold" stroke="#000" stroke-width="0.3" textLength="119.90" lengthAdjust="spacingAndGlyphs">splitting</text>
<path d="M140.76 1591.25H877.51" stroke="#cccccc" stroke-width="12.00" stroke-linecap="round" fill="none"/>
<path d="M873.39 1563.88a5.05 5.05 0 1 0 10.10 0a5.05 5.05 0 1 0 -10.10 0M874.31 1553.93a5.05 5.05 0 1 0 10.10 0a5.05 5.05 0 1 0 -10.10 0M875.23 1573.83a5.05 5.05 0 1 0 10.10 0a5.05 5.05 0 1 0 -10.10 0M876.15 1553.93a5.05 5.05 0 1 0 10.10 0a5.05 5.05 0 1 0 -10.10 0M877.07 1578.81a5.05 5.05 0 1 0 10.10 0a5.05 5.05 0 1 0 -10.10 0M878.00 1568.86a5.05 5.05 0 1 0 10.10 0a5.05 5.05 0 1 0 -10.10 0M878.92 1546.46a5.05 5.05 0 1 0 10.10 0a5.05 5.05 0 1 0 -10.10 0M879.84 1543.97a5.05 5.05 0 1 0 10.10 0a5.05 5.05 0 1 0 -10.10 0M880.76 1568.86a5.05 5.05 0 1 0 10.10 0a5.05 5.05 0 1 0 -10.10 0M881.68 1581.30a5.05 5.05 0 1 0 10.10 0a5.05 5.05 0 1 0 -10.10 0M882.61 1539.00a5.05 5.05 0 1 0 10.10 0a5.05 5.05 0 1 0 -10.10 0M883.53 1556.41a5.05 5.05 0 1 0 10.10 0a5.05 5.05 0 1 0 -10.10 0M884.45 1581.30a5.05 5.05 0 1 0 10.10 0a5.05 5.05 0 1 0 -10.10 0M885.37 1568.86a5.05 5.05 0 1 0 10.10 0a5.05 5.05 0 1 0 -10.10 0M886.29 1504.16a5.05 5.05 0 1 0 10.10 0a5.05 5.05 0 1 0 -10.10 0M887.22 1568.86a5.05 5.05 0 1 0 10.10 0a5.05 5.05 0 1 0 -10.10 0M888.14 1548.95a5.05 5.05 0 1 0 10.10 0a5.05 5.05 0 1 0 -10.10 0M889.06 1578.81a5.05 5.05 0 1 0 10.10 0a5.05 5.05 0 1 0 -10.10 0M889.98 1591.25a5.05 5.05 0 1 0 10.10 0a5.05 5.05 0 1 0 -10.10 0M890.91 1546.46a5.05 5.05 0 1 0 10.10 0a5.05 5.05 0 1 0 -10.10 0M891.83 1583.79a5.05 5.05 0 1 0 10.10 0a5.05 5.05 0 1 0 -10.10 0M892.75 1591.25a5.05 5.05 0 1 0 10.10 0a5.05 5.05 0 1 0 -10.10 0M893.67 1546.46a5.05 5.05 0 1 0 10.10 0a5.05 5.05 0 1 0 -10.10 0M894.59 1576.32a5.05 5.05 0 1 0 10.10 0a5.05 5.05 0 1 0 -10.10 0M895.52 1586.27a5.05 5.05 0 1 0 10.10 0a5.05 5.05 0 1 0 -10.10 0M896.44 1586.27a5.05 5.05 0 1 0 10.10 0a5.05 5.05 0 1 0 -10.10 0M897.36 1578.81a5.05 5.05 0 1 0 10.10 0a5.05 5.05 0 1 0 -10.10 0M898.28 1539.00a5.05 5.05 0 1 0 10.10 0a5.05 5.05 0 1 0 -10.10 0M899.20 1578.81a5.05 5.05 0 1 0 10.10 0a5.05 5.05 0 1 0 -10.10 0M900.13 1581.30a5.05 5.05 0 1 0 10.10 0a5.05 5.05 0 1 0 -10.10 0M901.05 1591.25a5.05 5.05 0 1 0 10.10 0a5.05 5.05 0 1 0 -10.10 0M901.97 1581.30a5.05 5.05 0 1 0 10.10 0a5.05 5.05 0 1 0 -10.10 0M902.89 1568.86a5.05 5.05 0 1 0 10.10 0a5.05 5.05 0 1 0 -10.10 0M903.81 1586.27a5.05 5.05 0 1 0 10.10 0a5.05 5.05 0 1 0 -10.10 0M904.74 1539.00a5.05 5.05 0 1 0 10.10 0a5.05 5.05 0 1 0 -10.10 0M905.66 1576.32a5.05 5.05 0 1 0 10.10 0a5.05 5.05 0 1 0 -10.10 0M906.58 1588.76a5.05 5.05 0 1 0 10.10 0a5.05 5.05 0 1 0 -10.10 0M907.50 1571.34a5.05 5.05 0 1 0 10.10 0a5.05 5.05 0 1 0 -10.10 0M908.43 1541.48a5.05 5.05 0 1 0 10.10 0a5.05 5.05 0 1 0 -10.10 0M909.35 1578.81a5.05 5.05 0 1 0 10.10 0a5.05 5.05 0 1 0 -10.10 0M910.27 1571.34a5.05 5.05 0 1 0 10.10 0a5.05 5.05 0 1 0 -10.10 0M911.19 1586.27a5.05 5.05 0 1 0 10.10 0a5.05 5.05 0 1 0 -10.10 0M912.11 1541.48a5.05 5.05 0 1 0 10.10 0a5.05 5.05 0 1 0 -10.10 0M913.04 1591.25a5.05 5.05 0 1 0 10.10 0a5.05 5.05 0 1 0 -10.10 0M913.96 1578.81a5.05 5.05 0 1 0 10.10 0a5.05 5.05 0 1 0 -10.10 0M914.88 1556.41a5.05 5.05 0 1 0 10.10 0a5.05 5.05 0 1 0 -10.10 0M915.80 1576.32a5.05 5.05 0 1 0 10.10 0a5.05 5.05 0 1 0 -10.10 0M916.72 1586.27a5.05 5.05 0 1 0 10.10 0a5.05 5.05 0 1 0 -10.10 0M917.65 1516.60a5.05 5.05 0 1 0 10.10 0a5.05 5.05 0 1 0 -10.10 0M918.57 1576.32a5.05 5.05 0 1 0 10.10 0a5.05 5.05 0 1 0 -10.10 0M919.49 1591.25a5.05 5.05 0 1 0 10.10 0a5.05 5.05 0 1 0 -10.10 0M920.41 1591.25a5.05 5.05 0 1 0 10.10 0a5.05 5.05 0 1 0 -10.10 0M921.33 1586.27a5.05 5.05 0 1 0 10.10 0a5.05 5.05 0 1 0 -10.10 0M922.26 1543.97a5.05 5.05 0 1 0 10.10 0a5.05 5.05 0 1 0 -10.10 0M923.18 1581.30a5.05 5.05 0 1 0 10.10 0a5.05 5.05 0 1 0 -10.10 0M924.10 1591.25a5.05 5.05 0 1 0 10.10 0a5.05 5.05 0 1 0 -10.10 0M925.02 1586.27a5.05 5.05 0 1 0 10.10 0a5.05 5.05 0 1 0 -10.10 0M925.95 1563.88a5.05 5.05 0 1 0 10.10 0a5.05 5.05 0 1 0 -10.10 0M926.87 1581.30a5.05 5.05 0 1 0 10.10 0a5.05 5.05 0 1 0 -10.10 0M927.79 1586.27a5.05 5.05 0 1 0 10.10 0a5.05 5.05 0 1 0 -10.10 0M928.71 1591.25a5.05 5.05 0 1 0 10.10 0a5.05 5.05 0 1 0 -10.10 0M929.63 1576.32a5.05 5.05 0 1 0 10.10 0a5.05 5.05 0 1 0 -10.10 0M930.56 1461.86a5.05 5.05 0 1 0 10.10 0a5.05 5.05 0 1 0 -10.10 0M931.48 1591.25a5.05 5.05 0 1 0 10.10 0a5.05 5.05 0 1 0 -10.10 0M932.40 1514.11a5.05 5.05 0 1 0 10.10 0a5.05 5.05 0 1 0 -10.10 0M933.32 1581.30a5.05 5.05 0 1 0 10.10 0a5.05 5.05 0 1 0 -10.10 0M934.24 1591.25a5.05 5.05 0 1 0 10.10 0a5.05 5.05 0 1 0 -10.10 0M935.17 1586.27a5.05 5.05 0 1 0 10.10 0a5.05 5.05 0 1 0 -10.10 0M936.09 1591.25a5.05 5.05 0 1 0 10.10 0a5.05 5.05 0 1 0 -10.10 0M937.01 1578.81a5.05 5.05 0 1 0 10.10 0a5.05 5.05 0 1 0 -10.10 0M937.93 1504.16a5.05 5.05 0 1 0 10.10 0a5.05 5.05 0 1 0 -10.10 0M938.85 1588.76a5.05 5.05 0 1 0 10.10 0a5.05 5.05 0 1 0 -10.10 0M939.78 1588.76a5.05 5.05 0 1 0 10.10 0a5.05 5.05 0 1 0 -10.10 0M940.70 1586.27a5.05 5.05 0 1 0 10.10 0a5.05 5.05 0 1 0 -10.10 0M941.62 1586.27a5.05 5.05 0 1 0 10.10 0a5.05 5.05 0 1 0 -10.10 0M942.54 1546.46a5.05 5.05 0 1 0 10.10 0a5.05 5.05 0 1 0 -10.10 0M943.46 1561.39a5.05 5.05 0 1 0 10.10 0a5.05 5.05 0 1 0 -10.10 0M944.39 1581.30a5.05 5.05 0 1 0 10.10 0a5.05 5.05 0 1 0 -10.10 0M945.31 1588.76a5.05 5.05 0 1 0 10.10 0a5.05 5.05 0 1 0 -10.10 0M946.23 1578.81a5.05 5.05 0 1 0 10.10 0a5.05 5.05 0 1 0 -10.10 0M947.15 1581.30a5.05 5.05 0 1 0 10.10 0a5.05 5.05 0 1 0 -10.10 0M948.08 1514.11a5.05 5.05 0 1 0 10.10 0a5.05 5.05 0 1 0 -10.10 0M949.00 1581.30a5.05 5.05 0 1 0 10.10 0a5.05 5.05 0 1 0 -10.10 0M949.92 1563.88a5.05 5.05 0 1 0 10.10 0a5.05 5.05 0 1 0 -10.10 0M950.84 1586.27a5.05 5.05 0 1 0 10.10 0a5.05 5.05 0 1 0 -10.10 0M951.76 1573.83a5.05 5.05 0 1 0 10.10 0a5.05 5.05 0 1 0 -10.10 0M952.69 1591.25a5.05 5.05 0 1 0 10.10 0a5.05 5.05 0 1 0 -10.10 0M953.61 1586.27a5.05 5.05 0 1 0 10.10 0a5.05 5.05 0 1 0 -10.10 0M954.53 1578.81a5.05 5.05 0 1 0 10.10 0a5.05 5.05 0 1 0 -10.10 0M955.45 1551.44a5.05 5.05 0 1 0 10.10 0a5.05 5.05 0 1 0 -10.10 0M956.37 1573.83a5.05 5.05 0 1 0 10.10 0a5.05 5.05 0 1 0 -10.10 0M957.30 1588.76a5.05 5.05 0 1 0 10.10 0a5.05 5.05 0 1 0 -10.10 0M958.22 1586.27a5.05 5.05 0 1 0 10.10 0a5.05 5.05 0 1 0 -10.10 0M959.14 1591.25a5.05 5.05 0 1 0 10.10 0a5.05 5.05 0 1 0 -10.10 0M960.06 1591.25a5.05 5.05 0 1 0 10.10 0a5.05 5.05 0 1 0 -10.10 0M960.98 1586.27a5.05 5.05 0 1 0 10.10 0a5.05 5.05 0 1 0 -10.10 0M961.91 1407.12a5.05 5.05 0 1 0 10.10 0a5.05 5.05 0 1 0 -10.10 0M962.83 1541.48a5.05 5.05 0 1 0 10.10 0a5.05 5.05 0 1 0 -10.10 0M963.75 1588.76a5.05 5.05 0 1 0 10.10 0a5.05 5.05 0 1 0 -10.10 0M964.67 1591.25a5.05 5.05 0 1 0 10.10 0a5.05 5.05 0 1 0 -10.10 0M965.60 1588.76a5.05 5.05 0 1 0 10.10 0a5.05 5.05 0 1 0 -10.10 0M966.52 1588.76a5.05 5.05 0 1 0 10.10 0a5.05 5.05 0 1 0 -10.10 0M967.44 1591.25a5.05 5.05 0 1 0 10.10 0a5.05 5.05 0 1 0 -10.10 0M968.36 1581.30a5.05 5.05 0 1 0 10.10 0a5.05 5.05 0 1 0 -10.10 0M969.28 1568.86a5.05 5.05 0 1 0 10.10 0a5.05 5.05 0 1 0 -10.10 0M970.21 1548.95a5.05 5.05 0 1 0 10.10 0a5.05 5.05 0 1 0 -10.10 0M971.13 1581.30a5.05 5.05 0 1 0 10.10 0a5.05 5.05 0 1 0 -10.10 0M972.05 1568.86a5.05 5.05 0 1 0 10.10 0a5.05 5.05 0 1 0 -10.10 0M972.97 1576.32a5.05 5.05 0 1 0 10.10 0a5.05 5.05 0 1 0 -10.10 0M973.89 1489.23a5.05 5.05 0 1 0 10.10 0a5.05 5.05 0 1 0 -10.10 0M974.82 1576.32a5.05 5.05 0 1 0 10.10 0a5.05 5.05 0 1 0 -10.10 0M975.74 1591.25a5.05 5.05 0 1 0 10.10 0a5.05 5.05 0 1 0 -10.10 0M976.66 1578.81a5.05 5.05 0 1 0 10.10 0a5.05 5.05 0 1 0 -10.10 0M977.58 1581.30a5.05 5.05 0 1 0 10.10 0a5.05 5.05 0 1 0 -10.10 0M978.50 1576.32a5.05 5.05 0 1 0 10.10 0a5.05 5.05 0 1 0 -10.10 0M979.43 1551.44a5.05 5.05 0 1 0 10.10 0a5.05 5.05 0 1 0 -10.10 0M980.35 1591.25a5.05 5.05 0 1 0 10.10 0a5.05 5.05 0 1 0 -10.10 0M981.27 1576.32a5.05 5.05 0 1 0 10.10 0a5.05 5.05 0 1 0 -10.10 0M982.19 1539.00a5.05 5.05 0 1 0 10.10 0a5.05 5.05 0 1 0 -10.10 0M983.12 1486.74a5.05 5.05 0 1 0 10.10 0a5.05 5.05 0 1 0 -10.10 0M984.04 1591.25a5.05 5.05 0 1 0 10.10 0a5.05 5.05 0 1 0 -10.10 0M984.96 1578.81a5.05 5.05 0 1 0 10.10 0a5.05 5.05 0 1 0 -10.10 0M985.88 1581.30a5.05 5.05 0 1 0 10.10 0a5.05 5.05 0 1 0 -10.10 0M986.80 1553.93a5.05 5.05 0 1 0 10.10 0a5.05 5.05 0 1 0 -10.10 0M987.73 1578.81a5.05 5.05 0 1 0 10.10 0a5.05 5.05 0 1 0 -10.10 0M988.65 1571.34a5.05 5.05 0 1 0 10.10 0a5.05 5.05 0 1 0 -10.10 0M989.57 1586.27a5.05 5.05 0 1 0 10.10 0a5.05 5.05 0 1 0 -10.10 0M990.49 1556.41a5.05 5.05 0 1 0 10.10 0a5.05 5.05 0 1 0 -10.10 0M991.41 1591.25a5.05 5.05 0 1 0 10.10 0a5.05 5.05 0 1 0 -10.10 0M992.34 1546.46a5.05 5.05 0 1 0 10.10 0a5.05 5.05 0 1 0 -10.10 0M993.26 1573.83a5.05 5.05 0 1 0 10.10 0a5.05 5.05 0 1 0 -10.10 0M994.18 1578.81a5.05 5.05 0 1 0 10.10 0a5.05 5.05 0 1 0 -10.10 0M995.10 1568.86a5.05 5.05 0 1 0 10.10 0a5.05 5.05 0 1 0 -10.10 0M996.02 1568.86a5.05 5.05 0 1 0 10.10 0a5.05 5.05 0 1 0 -10.10 0M996.95 1591.25a5.05 5.05 0 1 0 10.10 0a5.05 5.05 0 1 0 -10.10 0M997.87 1578.81a5.05 5.05 0 1 0 10.10 0a5.05 5.05 0 1 0 -10.10 0M998.79 1576.32a5.05 5.05 0 1 0 10.10 0a5.05 5.05 0 1 0 -10.10 0M999.71 1583.79a5.05 5.05 0 1 0 10.10 0a5.05 5.05 0 1 0 -10.10 0M1000.63 1576.32a5.05 5.05 0 1 0 10.10 0a5.05 5.05 0 1 0 -10.10 0M1001.56 1591.25a5.05 5.05 0 1 0 10.10 0a5.05 5.05 0 1 0 -10.10 0M1002.48 1486.74a5.05 5.05 0 1 0 10.10 0a5.05 5.05 0 1 0 -10.10 0M1003.40 1578.81a5.05 5.05 0 1 0 10.10 0a5.05 5.05 0 1 0 -10.10 0M1004.32 1591.25a5.05 5.05 0 1 0 10.10 0a5.05 5.05 0 1 0 -10.10 0M1005.25 1543.97a5.05 5.05 0 1 0 10.10 0a5.05 5.05 0 1 0 -10.10 0M1006.17 1583.79a5.05 5.05 0 1 0 10.10 0a5.05 5.05 0 1 0 -10.10 0M1007.09 1591.25a5.05 5.05 0 1 0 10.10 0a5.05 5.05 0 1 0 -10.10 0M1008.01 1581.30a5.05 5.05 0 1 0 10.10 0a5.05 5.05 0 1 0 -10.10 0M1008.93 1539.00a5.05 5.05 0 1 0 10.10 0a5.05 5.05 0 1 0 -10.10 0M1009.86 1591.25a5.05 5.05 0 1 0 10.10 0a5.05 5.05 0 1 0 -10.10 0M1010.78 1581.30a5.05 5.05 0 1 0 10.10 0a5.05 5.05 0 1 0 -10.10 0M1011.70 1541.48a5.05 5.05 0 1 0 10.10 0a5.05 5.05 0 1 0 -10.10 0M1012.62 1583.79a5.05 5.05 0 1 0 10.10 0a5.05 5.05 0 1 0 -10.10 0M1013.54 1591.25a5.05 5.05 0 1 0 10.10 0a5.05 5.05 0 1 0 -10.10 0M1014.47 1581.30a5.05 5.05 0 1 0 10.10 0a5.05 5.05 0 1 0 -10.10 0M1015.39 1586.27a5.05 5.05 0 1 0 10.10 0a5.05 5.05 0 1 0 -10.10 0M1016.31 1588.76a5.05 5.05 0 1 0 10.10 0a5.05 5.05 0 1 0 -10.10 0M1017.23 1586.27a5.05 5.05 0 1 0 10.10 0a5.05 5.05 0 1 0 -10.10 0M1018.15 1583.79a5.05 5.05 0 1 0 10.10 0a5.05 5.05 0 1 0 -10.10 0M1019.08 1576.32a5.05 5.05 0 1 0 10.10 0a5.05 5.05 0 1 0 -10.10 0M1020.00 1588.76a5.05 5.05 0 1 0 10.10 0a5.05 5.05 0 1 0 -10.10 0M1020.92 1591.25a5.05 5.05 0 1 0 10.10 0a5.05 5.05 0 1 0 -10.10 0M1021.84 1563.88a5.05 5.05 0 1 0 10.10 0a5.05 5.05 0 1 0 -10.10 0M1022.77 1591.25a5.05 5.05 0 1 0 10.10 0a5.05 5.05 0 1 0 -10.10 0M1023.69 1581.30a5.05 5.05 0 1 0 10.10 0a5.05 5.05 0 1 0 -10.10 0M1024.61 1586.27a5.05 5.05 0 1 0 10.10 0a5.05 5.05 0 1 0 -10.10 0M1025.53 1573.83a5.05 5.05 0 1 0 10.10 0a5.05 5.05 0 1 0 -10.10 0M1026.45 1581.30a5.05 5.05 0 1 0 10.10 0a5.05 5.05 0 1 0 -10.10 0M1027.38 1583.79a5.05 5.05 0 1 0 10.10 0a5.05 5.05 0 1 0 -10.10 0M1028.30 1571.34a5.05 5.05 0 1 0 10.10 0a5.05 5.05 0 1 0 -10.10 0M1029.22 1529.04a5.05 5.05 0 1 0 10.10 0a5.05 5.05 0 1 0 -10.10 0M1030.14 1516.60a5.05 5.05 0 1 0 10.10 0a5.05 5.05 0 1 0 -10.10 0M1031.06 1568.86a5.05 5.05 0 1 0 10.10 0a5.05 5.05 0 1 0 -10.10 0M1031.99 1576.32a5.05 5.05 0 1 0 10.10 0a5.05 5.05 0 1 0 -10.10 0M1032.91 1581.30a5.05 5.05 0 1 0 10.10 0a5.05 5.05 0 1 0 -10.10 0M1033.83 1566.37a5.05 5.05 0 1 0 10.10 0a5.05 5.05 0 1 0 -10.10 0M1034.75 1576.32a5.05 5.05 0 1 0 10.10 0a5.05 5.05 0 1 0 -10.10 0M1035.67 1558.90a5.05 5.05 0 1 0 10.10 0a5.05 5.05 0 1 0 -10.10 0M1036.60 1469.32a5.05 5.05 0 1 0 10.10 0a5.05 5.05 0 1 0 -10.10 0M1037.52 1521.58a5.05 5.05 0 1 0 10.10 0a5.05 5.05 0 1 0 -10.10 0M1038.44 1586.27a5.05 5.05 0 1 0 10.10 0a5.05 5.05 0 1 0 -10.10 0M1039.36 1553.93a5.05 5.05 0 1 0 10.10 0a5.05 5.05 0 1 0 -10.10 0M1040.29 1576.32a5.05 5.05 0 1 0 10.10 0a5.05 5.05 0 1 0 -10.10 0M1041.21 1591.25a5.05 5.05 0 1 0 10.10 0a5.05 5.05 0 1 0 -10.10 0M1042.13 1581.30a5.05 5.05 0 1 0 10.10 0a5.05 5.05 0 1 0 -10.10 0M1043.05 1566.37a5.05 5.05 0 1 0 10.10 0a5.05 5.05 0 1 0 -10.10 0M1043.97 1534.02a5.05 5.05 0 1 0 10.10 0a5.05 5.05 0 1 0 -10.10 0M1044.90 1578.81a5.05 5.05 0 1 0 10.10 0a5.05 5.05 0 1 0 -10.10 0M1045.82 1548.95a5.05 5.05 0 1 0 10.10 0a5.05 5.05 0 1 0 -10.10 0M1046.74 1578.81a5.05 5.05 0 1 0 10.10 0a5.05 5.05 0 1 0 -10.10 0M1047.66 1591.25a5.05 5.05 0 1 0 10.10 0a5.05 5.05 0 1 0 -10.10 0M1048.58 1583.79a5.05 5.05 0 1 0 10.10 0a5.05 5.05 0 1 0 -10.10 0M1049.51 1558.90a5.05 5.05 0 1 0 10.10 0a5.05 5.05 0 1 0 -10.10 0M1050.43 1516.60a5.05 5.05 0 1 0 10.10 0a5.05 5.05 0 1 0 -10.10 0M1051.35 1558.90a5.05 5.05 0 1 0 10.10 0a5.05 5.05 0 1 0 -10.10 0M1052.27 1484.25a5.05 5.05 0 1 0 10.10 0a5.05 5.05 0 1 0 -10.10 0M1053.19 1571.34a5.05 5.05 0 1 0 10.10 0a5.05 5.05 0 1 0 -10.10 0M1054.12 1583.79a5.05 5.05 0 1 0 10.10 0a5.05 5.05 0 1 0 -10.10 0M1055.04 1583.79a5.05 5.05 0 1 0 10.10 0a5.05 5.05 0 1 0 -10.10 0M1055.96 1591.25a5.05 5.05 0 1 0 10.10 0a5.05 5.05 0 1 0 -10.10 0M1056.88 1576.32a5.05 5.05 0 1 0 10.10 0a5.05 5.05 0 1 0 -10.10 0" fill="none" stroke="#cccccc" stroke-width="1.9"/>
<path d="M140.76 1591.25L877.51 1591.25L878.44 1563.96L879.36 1576.03L880.28 1572.19L881.20 1556.41L882.12 1579.25L883.05 1570.49L883.97 1589.10L884.89 1544.95L885.81 1567.83L886.73 1581.32L887.66 1567.12L888.58 1555.44L889.50 1581.54L890.42 1571.60L891.34 1508.08L892.27 1571.52L893.19 1545.73L894.11 1578.73L895.03 1590.75L895.96 1574.86L896.88 1582.71L897.80 1590.75L898.72 1548.76L899.64 1576.63L900.57 1587.14L901.49 1590.75L902.41 1580.09L903.33 1539.56L904.25 1578.44L905.18 1585.10L906.10 1590.75L907.02 1580.97L907.94 1568.01L908.86 1585.28L909.79 1542.28L910.71 1576.29L911.63 1590.52L912.55 1571.14L913.48 1546.02L914.40 1578.93L915.32 1570.12L916.24 1583.50L917.16 1543.67L918.09 1590.06L919.01 1578.13L919.93 1560.77L920.85 1576.30L921.77 1583.38L922.70 1519.84L923.62 1579.26L924.54 1587.66L925.46 1590.75L926.38 1583.43L927.31 1543.40L928.23 1580.21L929.15 1588.66L930.07 1583.87L931.00 1566.39L931.92 1581.08L932.84 1584.03L933.76 1590.75L934.68 1575.83L935.61 1460.23L936.53 1590.19L937.45 1516.58L938.37 1581.17L939.29 1590.75L940.22 1584.51L941.14 1590.75L942.06 1580.03L942.98 1504.32L943.90 1590.36L944.83 1587.74L945.75 1584.38L946.67 1587.12L947.59 1551.30L948.51 1563.72L949.44 1582.52L950.36 1585.04L951.28 1578.76L952.20 1585.10L953.13 1517.64L954.05 1582.48L954.97 1562.42L955.89 1583.00L956.81 1574.39L957.74 1590.75L958.66 1586.57L959.58 1580.09L960.50 1554.77L961.42 1575.85L962.35 1585.15L963.27 1590.64L964.19 1587.83L965.11 1590.59L966.03 1586.89L966.96 1411.50L967.88 1546.39L968.80 1590.41L969.72 1589.07L970.65 1589.36L971.57 1588.18L972.49 1590.75L973.41 1580.61L974.33 1570.47L975.26 1547.77L976.18 1583.20L977.10 1571.89L978.02 1578.72L978.94 1492.80L979.87 1576.78L980.79 1589.33L981.71 1580.05L982.63 1584.04L983.55 1575.80L984.48 1549.84L985.40 1589.35L986.32 1576.39L987.24 1543.38L988.17 1490.82L989.09 1590.75L990.01 1578.96L990.93 1580.81L991.85 1557.13L992.78 1578.35L993.70 1571.82L994.62 1583.64L995.54 1557.09L996.46 1590.31L997.39 1551.45L998.31 1574.47L999.23 1578.72L1000.15 1571.87L1001.07 1582.93L1002.00 1588.44L1002.92 1582.10L1003.84 1575.17L1004.76 1582.72L1005.68 1578.41L1006.61 1590.75L1007.53 1487.45L1008.45 1578.84L1009.37 1590.75L1010.30 1550.99L1011.22 1585.96L1012.14 1590.22L1013.06 1582.04L1013.98 1537.21L1014.91 1590.75L1015.83 1583.90L1016.75 1541.25L1017.67 1585.31L1018.59 1588.69L1019.52 1583.06L1020.44 1587.28L1021.36 1589.76L1022.28 1585.89L1023.20 1583.70L1024.13 1575.55L1025.05 1585.79L1025.97 1588.00L1026.89 1562.85L1027.82 1590.75L1028.74 1583.93L1029.66 1585.04L1030.58 1574.64L1031.50 1584.60L1032.43 1584.55L1033.35 1571.49L1034.27 1535.34L1035.19 1520.07L1036.11 1571.10L1037.04 1580.00L1037.96 1579.15L1038.88 1566.19L1039.80 1575.36L1040.72 1563.54L1041.65 1466.58L1042.57 1529.82L1043.49 1584.47L1044.41 1554.88L1045.34 1579.76L1046.26 1590.33L1047.18 1581.68L1048.10 1566.68L1049.02 1532.73L1049.95 1578.66L1050.87 1552.17L1051.79 1579.17L1052.71 1590.75L1053.63 1583.81L1054.56 1561.61L1055.48 1519.76L1056.40 1559.90L1057.32 1486.44L1058.24 1571.88L1059.17 1585.03L1060.09 1586.28L1061.01 1590.50L1061.93 1577.07" fill="none" stroke="#000000" stroke-width="2" stroke-linejoin="round" stroke-linecap="round"/>
<rect x="103.91" y="1399.91" width="994.87" height="198.84" fill="none" stroke="#000" stroke-width="2" stroke-linejoin="round"/>
<path d="M139.83 1598.75V1611.42M324.25 1598.75V1611.42M508.67 1598.75V1611.42M693.09 1598.75V1611.42M877.51 1598.75V1611.42M1061.93 1598.75V1611.42M103.91 1591.25H91.24M103.91 1541.48H91.24M103.91 1491.72H91.24M103.91 1441.95H91.24" stroke="#000" stroke-width="2" stroke-linecap="round" fill="none"/>
<text x="133.61" y="1643.75" font-size="23.00" textLength="12.48" lengthAdjust="spacingAndGlyphs">0</text>
<text x="304.44" y="1643.75" font-size="23.00" textLength="39.63" lengthAdjust="spacingAndGlyphs">200</text>
<text x="489.00" y="1643.75" font-size="23.00" textLength="39.48" lengthAdjust="spacingAndGlyphs">400</text>
<text x="673.14" y="1643.75" font-size="23.00" textLength="39.77" lengthAdjust="spacingAndGlyphs">600</text>
<text x="857.70" y="1643.75" font-size="23.00" textLength="39.63" lengthAdjust="spacingAndGlyphs">800</text>
<text x="1035.57" y="1643.75" font-size="23.00" textLength="52.93" lengthAdjust="spacingAndGlyphs">1000</text>
<text transform="translate(73.00 0) rotate(-89.95)" x="-1597.48" y="0" font-size="23.00" textLength="12.49" lengthAdjust="spacingAndGlyphs">0</text>
<text transform="translate(73.00 0) rotate(-89.95)" x="-1554.58" y="0" font-size="23.00" textLength="26.14" lengthAdjust="spacingAndGlyphs">20</text>
<text transform="translate(73.00 0) rotate(-89.95)" x="-1504.67" y="0" font-size="23.00" textLength="26.00" lengthAdjust="spacingAndGlyphs">40</text>
<text transform="translate(73.00 0) rotate(-89.95)" x="-1455.17" y="0" font-size="23.00" textLength="26.27" lengthAdjust="spacingAndGlyphs">60</text>
<text x="572.18" y="1694.80" font-size="23.00" textLength="58.12" lengthAdjust="spacingAndGlyphs">Index</text>
<text transform="translate(22.60 0) rotate(-89.95)" x="-1504.39" y="0" font-size="21.70" textLength="11.95" lengthAdjust="spacingAndGlyphs">y</text>
<text x="456.92" y="1356.80" font-size="26.30" font-weight="bold" stroke="#000" stroke-width="0.3" textLength="129.28" lengthAdjust="spacingAndGlyphs">splitting,</text>
<text x="595.55" y="1356.80" font-size="26.30" font-weight="bold" stroke="#000" stroke-width="0.3" textLength="149.32" lengthAdjust="spacingAndGlyphs">exp(b_pm)</text>
</svg></body></html>
